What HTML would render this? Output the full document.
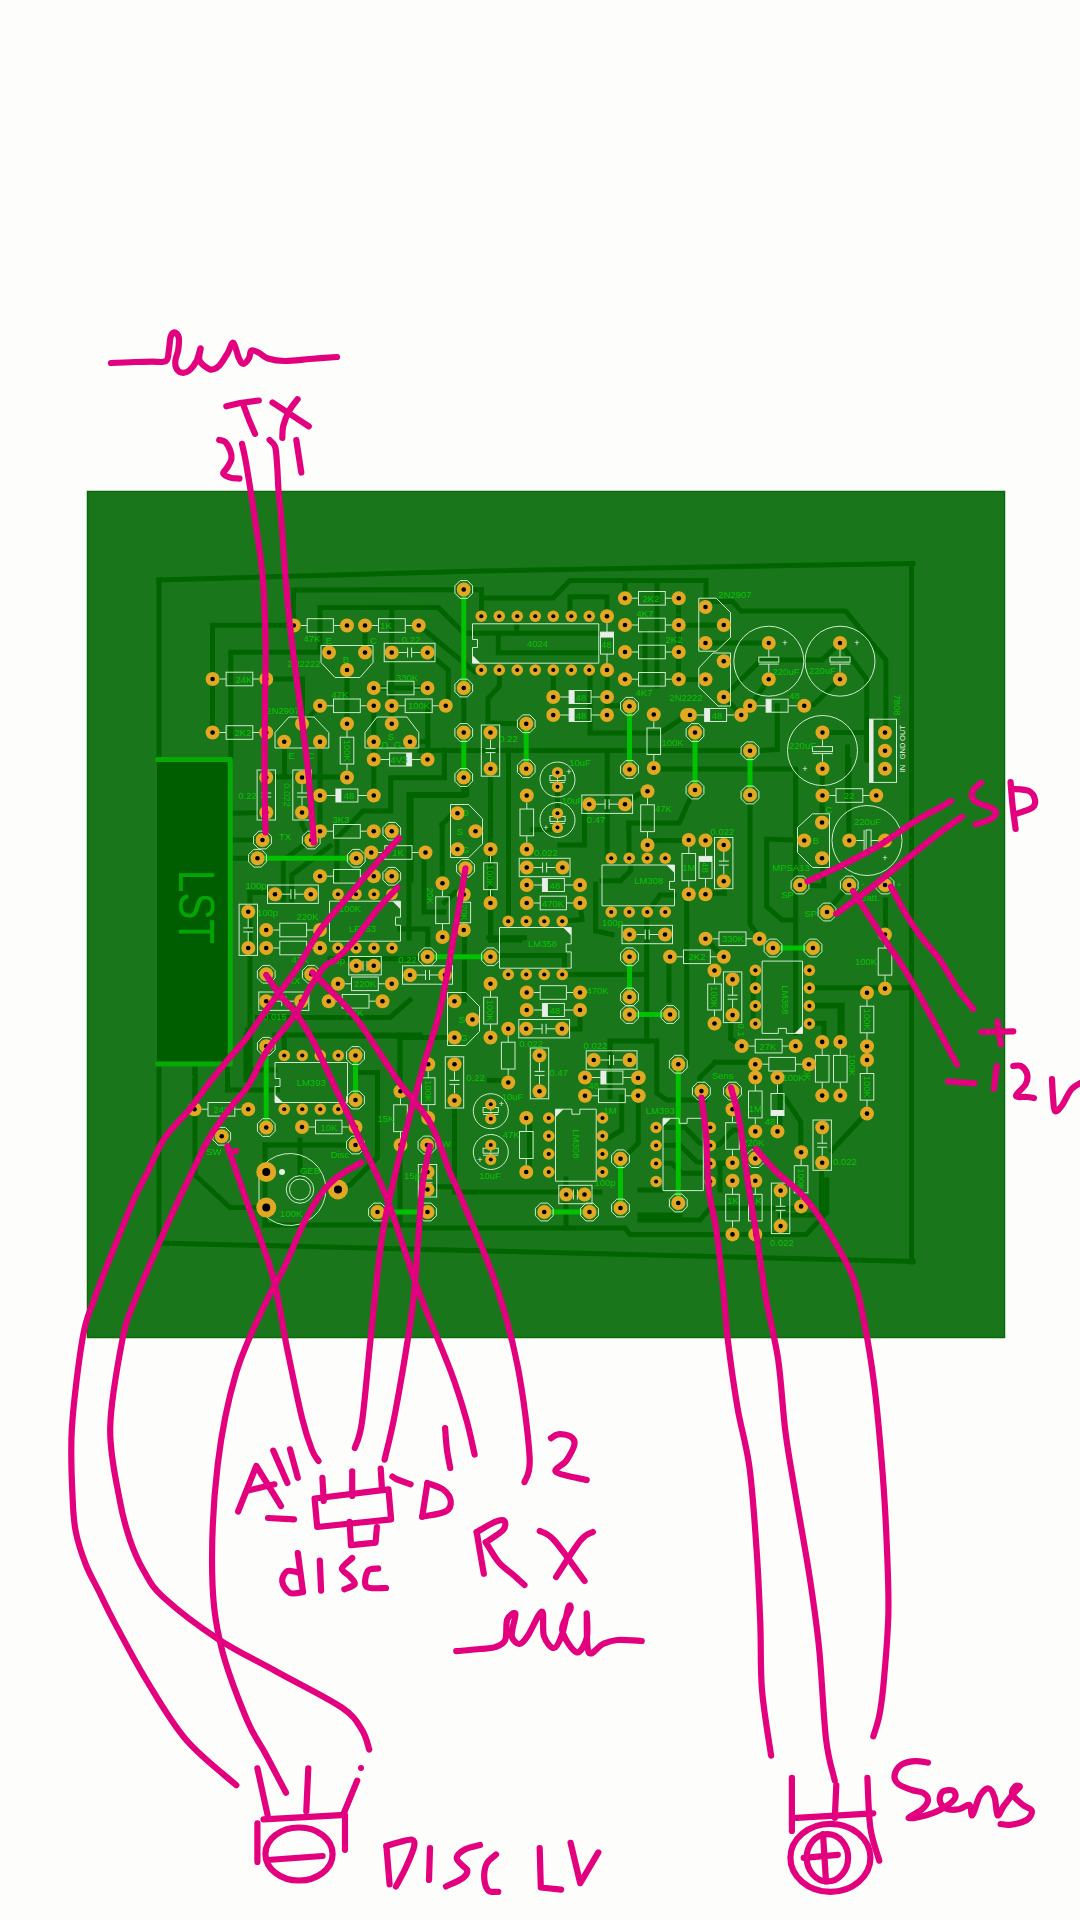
<!DOCTYPE html>
<html><head><meta charset="utf-8"><style>
html,body{margin:0;padding:0;background:#fdfdfb;width:1080px;height:1920px;overflow:hidden}
svg{display:block}
.m{fill:none;stroke:#e3007f;stroke-width:6.2;stroke-linecap:round;stroke-linejoin:round}
.t{fill:none;stroke:#006400;stroke-width:5;stroke-linecap:square;stroke-linejoin:miter}
.g{fill:none;stroke:#00c200;stroke-width:5;stroke-linecap:butt}
.w{fill:none;stroke:#cdeccd;stroke-width:1}
.lb{font-family:"Liberation Sans",sans-serif;font-size:9.5px;fill:#06c206}
</style></head><body>
<svg width="1080" height="1920" viewBox="0 0 1080 1920">
<rect x="0" y="0" width="1080" height="1920" fill="#fdfdfb"/>
<rect x="87.5" y="491.5" width="917" height="846" fill="#1a761a" stroke="#0a6a0a" stroke-width="1.5"/>
<path d="M159.0 580.0 L480.0 571.0 L913.0 563.5" class="t"/>
<path d="M159.0 580.0 L159.0 760.0" class="t"/>
<path d="M159.0 1063.0 L159.0 1243.0 L913.0 1261.5" class="t"/>
<path d="M911.5 563.5 L911.5 1262.0" class="t"/>
<path d="M293.5 625.5 L293.5 590.0 L463.8 589.7 L481.5 589.7 L481.5 616.2" class="t"/>
<path d="M481.5 598.0 L553.0 598.0 L570.0 580.5 L706.0 580.5 L706.0 607.0" class="t"/>
<path d="M570.0 616.0 L570.0 596.7 L607.0 596.7 L607.0 616.0" class="t"/>
<path d="M625.0 598.0 L625.0 580.5" class="t"/>
<path d="M657.0 580.5 L657.0 686.0" class="t"/>
<path d="M320.0 652.5 L320.0 607.5 L438.3 607.5 L464.0 633.3 L598.0 633.3" class="t"/>
<path d="M516.7 623.7 L516.7 633.3" class="t"/>
<path d="M598.0 652.7 L498.3 652.7 L498.3 633.3" class="t"/>
<path d="M499.4 670.0 L499.4 686.0 L488.0 698.5 L488.0 732.5" class="t"/>
<path d="M488.0 723.0 L526.2 723.8" class="t"/>
<path d="M553.3 670.0 L553.3 697.0" class="t"/>
<path d="M590.0 670.0 L590.0 733.0 L660.0 733.0 L687.0 715.0" class="t"/>
<path d="M607.3 670.0 L607.3 715.0" class="t"/>
<path d="M607.3 705.6 L629.5 706.2" class="t"/>
<path d="M678.6 598.0 L678.6 679.0" class="t"/>
<path d="M678.6 625.2 L723.8 625.0" class="t"/>
<path d="M706.0 607.0 L706.0 601.5 L732.6 601.5 L741.1 611.1 L845.5 611.1 L885.9 660.1 L885.9 732.5" class="t"/>
<path d="M705.5 643.0 L768.8 643.0" class="t"/>
<path d="M760.0 660.0 L822.0 660.0 L840.0 643.0" class="t"/>
<path d="M768.8 679.2 L750.7 705.9" class="t"/>
<path d="M760.0 661.0 L730.5 690.0 L723.8 697.0" class="t"/>
<path d="M840.0 643.0 L866.7 679.2 L866.7 760.0" class="t"/>
<path d="M840.0 679.2 L813.5 704.8 L804.2 705.8" class="t"/>
<path d="M777.3 705.8 L777.3 749.5 L750.0 750.8" class="t"/>
<path d="M723.8 697.0 L741.1 715.0 L750.7 705.9" class="t"/>
<path d="M822.0 732.5 L866.7 732.5" class="t"/>
<path d="M847.6 747.0 L847.6 800.0" class="t"/>
<path d="M695.0 750.6 L750.0 750.6" class="t"/>
<path d="M678.6 680.0 L705.5 679.2" class="t"/>
<path d="M645.0 633.0 L645.0 682.0" class="t"/>
<path d="M420.0 750.5 L700.0 750.5" class="t"/>
<path d="M212.5 733.0 L212.5 625.3 L293.8 625.3" class="t"/>
<path d="M230.8 759.0 L230.8 652.2 L329.0 652.2" class="t"/>
<path d="M266.2 679.0 L302.5 679.0 L302.5 723.8 L320.0 705.8" class="t"/>
<path d="M365.0 625.5 L365.0 652.5" class="t"/>
<path d="M347.0 670.0 L347.0 723.8" class="t"/>
<path d="M391.8 607.5 L391.8 723.8" class="t"/>
<path d="M418.8 625.5 L475.0 672.0 L481.2 670.0" class="t"/>
<path d="M427.5 652.5 L448.3 670.0 L448.3 706.0" class="t"/>
<path d="M463.8 688.0 L463.8 732.5" class="t"/>
<path d="M373.8 705.8 L373.8 795.5" class="t"/>
<path d="M410.0 741.8 L427.8 741.8 L427.8 759.5" class="t"/>
<path d="M427.8 706.0 L427.8 741.8" class="t"/>
<path d="M373.8 688.0 L427.5 688.0" class="t"/>
<path d="M284.5 741.8 L284.5 776.7" class="t"/>
<path d="M266.2 776.7 L347.0 776.9" class="t"/>
<path d="M320.0 741.7 L320.0 831.0" class="t"/>
<path d="M233.0 813.3 L266.2 812.5" class="t"/>
<path d="M233.0 840.0 L262.5 840.0" class="t"/>
<path d="M233.0 858.3 L257.5 858.2" class="t"/>
<path d="M444.4 750.0 L444.4 777.8 L390.7 777.8 L390.7 811.0 L363.0 811.0 L337.0 838.0 L337.0 880.0" class="t"/>
<path d="M463.9 777.8 L463.9 795.4 L411.0 795.4 L411.0 880.0" class="t"/>
<path d="M490.6 768.0 L490.6 940.0" class="t"/>
<path d="M302.0 812.5 L302.0 825.0 L311.0 840.0" class="t"/>
<path d="M311.0 840.0 L283.3 860.0 L283.3 900.0" class="t"/>
<path d="M330.0 846.0 L291.7 875.0 L291.7 900.0" class="t"/>
<path d="M250.0 892.5 L250.0 1080.0" class="t"/>
<path d="M250.0 892.5 L268.0 892.5" class="t"/>
<path d="M257.5 1017.5 L390.0 1017.5 L410.0 1000.0" class="t"/>
<path d="M275.0 1035.0 L420.0 1035.0" class="t"/>
<path d="M246.0 1035.0 L246.0 1080.0" class="t"/>
<path d="M195.0 1064.0 L195.0 1108.0" class="t"/>
<path d="M400.0 1035.0 L400.0 1091.0" class="t"/>
<path d="M330.0 958.8 L420.0 958.8" class="t"/>
<path d="M409.0 938.0 L409.0 794.4 L466.7 794.4 L466.7 777.8" class="t"/>
<path d="M424.0 852.5 L424.0 912.0 L444.0 912.0" class="t"/>
<path d="M455.6 892.2 L444.4 902.2" class="t"/>
<path d="M400.0 928.9 L427.8 928.9 L427.8 960.0" class="t"/>
<path d="M442.2 824.4 L442.2 884.4" class="t"/>
<path d="M442.2 824.4 L453.0 813.0" class="t"/>
<path d="M464.4 937.8 L464.4 1000.0" class="t"/>
<path d="M490.6 903.0 L490.6 940.0 L520.0 940.0" class="t"/>
<path d="M508.5 750.0 L508.5 920.0" class="t"/>
<path d="M488.9 937.8 L524.4 937.8" class="t"/>
<path d="M497.8 955.6 L564.4 955.6 L564.4 974.5" class="t"/>
<path d="M595.6 884.0 L595.6 931.0 L612.0 934.5" class="t"/>
<path d="M653.3 768.9 L795.6 768.9 L795.6 1033.0" class="t"/>
<path d="M822.2 768.8 L822.2 822.5" class="t"/>
<path d="M647.1 840.4 L687.8 840.4" class="t"/>
<path d="M750.0 795.0 L750.0 924.4 L760.0 937.8" class="t"/>
<path d="M804.0 840.5 L766.7 839.0 L766.7 906.7 L782.0 920.0 L795.6 920.0" class="t"/>
<path d="M822.0 858.0 L824.0 886.0 L800.0 885.0" class="t"/>
<path d="M849.0 885.0 L827.0 912.0" class="t"/>
<path d="M848.9 760.0 L848.9 838.0" class="t"/>
<path d="M705.6 893.3 L724.4 893.3 L724.4 881.0" class="t"/>
<path d="M686.7 894.0 L686.7 1000.0" class="t"/>
<path d="M705.6 938.9 L723.3 957.1" class="t"/>
<path d="M646.7 913.0 L646.7 1000.0" class="t"/>
<path d="M668.9 957.0 L668.9 1000.0" class="t"/>
<path d="M813.3 987.8 L911.0 987.8" class="t"/>
<path d="M753.3 969.0 L753.3 1024.0" class="t"/>
<path d="M885.4 900.0 L885.4 934.6" class="t"/>
<path d="M809.4 1005.9 L840.0 1005.9 L840.0 1042.0" class="t"/>
<path d="M195.0 1065.0 L195.0 1175.0 L230.0 1207.5 L266.0 1207.5" class="t"/>
<path d="M227.5 1030.0 L227.5 1090.0 L277.5 1090.0" class="t"/>
<path d="M247.5 1030.0 L247.5 1070.0 L275.0 1070.0" class="t"/>
<path d="M315.0 1036.0 L420.0 1036.0" class="t"/>
<path d="M355.5 1072.5 L377.5 1072.5 L377.5 1157.5 L350.0 1185.0 L338.0 1189.5" class="t"/>
<path d="M300.0 1140.0 L300.0 1177.0" class="t"/>
<path d="M265.0 1145.0 L350.0 1145.0" class="t"/>
<path d="M265.0 1145.0 L265.0 1225.0 L420.0 1225.0" class="t"/>
<path d="M400.0 1042.0 L400.0 1091.0" class="t"/>
<path d="M400.0 1150.0 L400.0 1220.0" class="t"/>
<path d="M284.2 1055.5 L284.2 1036.0" class="t"/>
<path d="M400.0 1037.6 L454.5 1037.6" class="t"/>
<path d="M454.5 1106.0 L454.5 1186.7 L436.0 1186.7" class="t"/>
<path d="M489.4 1080.4 L508.2 1080.4" class="t"/>
<path d="M529.6 1122.0 L529.6 1171.0" class="t"/>
<path d="M566.0 1179.0 L566.0 1228.0" class="t"/>
<path d="M420.0 1228.0 L625.0 1228.0 L630.0 1234.6 L806.0 1234.6 L826.7 1212.6 L826.7 1180.0" class="t"/>
<path d="M454.5 1192.0 L600.0 1192.0" class="t"/>
<path d="M640.0 1215.0 L680.0 1215.0" class="t"/>
<path d="M715.2 1062.2 L754.0 1062.2" class="t"/>
<path d="M715.2 1062.2 L699.6 1077.8 L699.6 1091.0" class="t"/>
<path d="M656.1 1127.5 L685.0 1127.5 L700.0 1143.3 L710.3 1145.3" class="t"/>
<path d="M656.1 1145.3 L680.0 1145.3 L696.7 1161.7 L710.3 1163.3" class="t"/>
<path d="M656.1 1163.3 L671.7 1163.3 L681.7 1173.3 L700.0 1173.3" class="t"/>
<path d="M710.3 1145.3 L718.3 1145.3 L733.3 1130.0 L740.0 1130.0" class="t"/>
<path d="M710.3 1163.3 L732.5 1162.8" class="t"/>
<path d="M640.0 1190.0 L662.0 1190.0" class="t"/>
<path d="M780.0 1077.8 L780.0 1132.0" class="t"/>
<path d="M785.2 1098.5 L800.7 1121.9 L800.7 1153.0" class="t"/>
<path d="M821.5 1171.0 L821.5 1215.0 L780.0 1215.0" class="t"/>
<path d="M865.6 1114.0 L831.9 1150.4" class="t"/>
<path d="M808.5 1005.2 L842.2 1005.2 L842.2 1042.0" class="t"/>
<path d="M809.0 1023.3 L824.0 1023.3 L824.0 1042.0" class="t"/>
<path d="M730.7 1010.0 L730.7 1038.9 L741.7 1046.0" class="t"/>
<path d="M640.0 1220.0 L700.0 1220.0 L710.0 1208.3 L800.0 1208.3" class="t"/>
<path d="M720.0 1165.0 L720.0 1190.0" class="t"/>
<path d="M646.7 1000.0 L646.7 1041.0" class="t"/>
<path d="M610.0 1097.0 L610.0 1041.0 L656.7 1041.0 L656.7 1093.0 L666.7 1100.0 L704.8 1100.0" class="t"/>
<path d="M621.7 1097.0 L621.7 1130.0 L610.0 1137.0" class="t"/>
<path d="M638.3 1078.0 L638.3 1143.0 L626.7 1155.0" class="t"/>
<path d="M580.0 1012.5 L580.0 1029.0 L570.0 1029.0" class="t"/>
<path d="M686.7 1000.0 L686.7 1063.0" class="t"/>
<path d="M607.3 750.4 L607.3 858.0" class="t"/>
<path d="M584.6 813.0 L584.6 845.0 L560.0 845.0" class="t"/>
<path d="M625.0 804.3 L637.8 794.4 L647.5 791.2" class="t"/>
<path d="M629.2 858.2 L628.7 823.0 L679.3 823.0 L689.6 799.6 L695.0 790.0" class="t"/>
<path d="M580.0 903.0 L582.0 919.5 L562.5 921.2" class="t"/>
<path d="M571.0 974.5 L645.0 974.5" class="t"/>
<path d="M602.0 880.7 L620.5 880.7 L630.7 870.5 L630.7 858.0" class="t"/>
<path d="M648.0 912.0 L660.0 895.0 L674.0 895.0" class="t"/>
<path d="M557.5 786.8 L557.5 813.2" class="t"/>
<path d="M533.0 829.6 L550.0 829.6" class="t"/>
<rect x="157" y="761" width="72" height="302" fill="#005e00"/>
<path d="M157.5 759.5H230.3V1063.9H157.5" fill="none" stroke="#06aa06" stroke-width="5" stroke-linecap="round" stroke-linejoin="round"/>
<text x="196.2" y="907" transform="rotate(90 196.2 907)" text-anchor="middle" dominant-baseline="central" font-family="Liberation Sans,sans-serif" font-size="50" textLength="74" lengthAdjust="spacingAndGlyphs" fill="#04a404">LST</text>
<path d="M463.8 589.5 L463.8 688.0" class="g"/>
<path d="M463.8 732.5 L463.8 777.5" class="g"/>
<path d="M629.5 706.2 L629.5 769.5" class="g"/>
<path d="M526.2 723.8 L526.2 768.8" class="g"/>
<path d="M695.0 732.5 L695.0 790.0" class="g"/>
<path d="M750.0 750.8 L750.0 795.0" class="g"/>
<path d="M257.5 858.2 L356.2 858.2" class="g"/>
<path d="M427.5 956.8 L490.5 956.8" class="g"/>
<path d="M629.5 956.8 L629.5 997.0" class="g"/>
<path d="M629.5 1014.5 L670.0 1014.5" class="g"/>
<path d="M773.0 948.0 L813.0 948.0" class="g"/>
<path d="M355.5 1055.5 L355.5 1100.0" class="g"/>
<path d="M266.2 1046.2 L266.2 1127.5" class="g"/>
<path d="M377.5 1212.0 L427.5 1212.0" class="g"/>
<path d="M544.2 1212.0 L589.5 1212.0" class="g"/>
<path d="M620.5 1158.8 L620.5 1208.0" class="g"/>
<path d="M678.3 1064.2 L678.3 1203.0" class="g"/>
<path d="M219.6 679.0L226.1 679.0" class="w"/>
<path d="M252.8 679.0L259.2 679.0" class="w"/>
<rect x="226.1" y="672.2" width="26.7" height="13.6" class="w"/>
<path d="M219.6 732.5L226.1 732.5" class="w"/>
<path d="M252.8 732.5L259.2 732.5" class="w"/>
<rect x="226.1" y="725.7" width="26.7" height="13.6" class="w"/>
<path d="M300.8 625.5L307.2 625.5" class="w"/>
<path d="M333.5 625.5L340.0 625.5" class="w"/>
<rect x="307.2" y="618.7" width="26.2" height="13.6" class="w"/>
<path d="M372.0 625.5L378.5 625.5" class="w"/>
<path d="M405.2 625.5L411.8 625.5" class="w"/>
<rect x="378.5" y="618.7" width="26.8" height="13.6" class="w"/>
<polygon points="321.0,645.5 373.0,645.5 373.0,662.5 360.0,677.5 335.0,677.5 321.0,662.5" class="w"/>
<rect x="384.2" y="643.3" width="50.8" height="18.4" class="w"/>
<path d="M398.8 652.5L407.6 652.5" class="w"/>
<path d="M411.6 652.5L420.5 652.5" class="w"/>
<path d="M407.6 647.5L407.6 657.5" class="w"/>
<path d="M411.6 647.5L411.6 657.5" class="w"/>
<path d="M380.8 688.0L387.2 688.0" class="w"/>
<path d="M414.0 688.0L420.5 688.0" class="w"/>
<rect x="387.2" y="681.2" width="26.8" height="13.6" class="w"/>
<path d="M327.0 705.8L333.5 705.8" class="w"/>
<path d="M360.2 705.8L366.8 705.8" class="w"/>
<rect x="333.5" y="699.0" width="26.8" height="13.6" class="w"/>
<path d="M398.8 705.8L405.2 705.8" class="w"/>
<path d="M432.2 705.8L438.8 705.8" class="w"/>
<rect x="405.2" y="699.0" width="27.0" height="13.6" class="w"/>
<polygon points="289.0,717.0 314.0,717.0 328.8,732.5 328.8,748.0 275.0,748.0 275.0,732.5" class="w"/>
<path d="M347.0 730.8L347.0 737.2" class="w"/>
<path d="M347.0 764.0L347.0 770.5" class="w"/>
<rect x="340.2" y="737.2" width="13.6" height="26.8" class="w"/>
<polygon points="377.0,717.0 407.0,717.0 418.8,732.5 418.8,748.0 365.0,748.0 365.0,732.5" class="w"/>
<path d="M380.8 759.5L389.6 759.5" class="w"/>
<path d="M411.6 759.5L420.5 759.5" class="w"/>
<rect x="389.6" y="753.0" width="22.0" height="13.0" class="w"/>
<rect x="406.1" y="753.0" width="5.5" height="13" fill="#e8eee8"/>
<rect x="257.1" y="770.0" width="18.4" height="50.0" class="w"/>
<path d="M266.2 784.5L266.2 793.0" class="w"/>
<path d="M266.2 797.0L266.2 805.5" class="w"/>
<path d="M261.2 793.0L271.2 793.0" class="w"/>
<path d="M261.2 797.0L271.2 797.0" class="w"/>
<rect x="292.8" y="770.0" width="18.4" height="50.0" class="w"/>
<path d="M302.0 784.5L302.0 793.0" class="w"/>
<path d="M302.0 797.0L302.0 805.5" class="w"/>
<path d="M297.0 793.0L307.0 793.0" class="w"/>
<path d="M297.0 797.0L307.0 797.0" class="w"/>
<path d="M327.0 795.5L335.9 795.5" class="w"/>
<path d="M357.9 795.5L366.8 795.5" class="w"/>
<rect x="335.9" y="789.0" width="22.0" height="13.0" class="w"/>
<rect x="335.9" y="789.0" width="5.5" height="13" fill="#e8eee8"/>
<polygon points="472.6,593.2 467.4,598.4 460.1,598.4 454.9,593.2 454.9,585.8 460.1,580.6 467.4,580.6 472.6,585.8" class="w"/>
<polygon points="472.6,691.7 467.4,696.9 460.1,696.9 454.9,691.7 454.9,684.3 460.1,679.1 467.4,679.1 472.6,684.3" class="w"/>
<polygon points="472.6,736.2 467.4,741.4 460.1,741.4 454.9,736.2 454.9,728.8 460.1,723.6 467.4,723.6 472.6,728.8" class="w"/>
<polygon points="472.6,781.2 467.4,786.4 460.1,786.4 454.9,781.2 454.9,773.8 460.1,768.6 467.4,768.6 472.6,773.8" class="w"/>
<path d="M472.5 623.8H598.8V663.2H472.5V647.5h5v-8h-5Z" class="w"/>
<path d="M472.5 663.2v-8l8 8z" fill="#e8eee8"/>
<path d="M607.0 623.2L607.0 632.1" class="w"/>
<path d="M607.0 654.1L607.0 663.0" class="w"/>
<rect x="600.5" y="632.1" width="13.0" height="22.0" class="w"/>
<rect x="600.5" y="632.1" width="13" height="5.5" fill="#e8eee8"/>
<path d="M632.0 598.2L638.5 598.2" class="w"/>
<path d="M665.2 598.2L671.8 598.2" class="w"/>
<rect x="638.5" y="591.5" width="26.8" height="13.6" class="w"/>
<path d="M632.0 625.0L638.5 625.0" class="w"/>
<path d="M665.2 625.0L671.8 625.0" class="w"/>
<rect x="638.5" y="618.2" width="26.8" height="13.6" class="w"/>
<path d="M632.0 652.0L638.5 652.0" class="w"/>
<path d="M665.2 652.0L671.8 652.0" class="w"/>
<rect x="638.5" y="645.2" width="26.8" height="13.6" class="w"/>
<path d="M632.0 679.2L638.5 679.2" class="w"/>
<path d="M665.2 679.2L671.8 679.2" class="w"/>
<rect x="638.5" y="672.5" width="26.8" height="13.6" class="w"/>
<path d="M560.2 697.0L569.1 697.0" class="w"/>
<path d="M591.1 697.0L600.0 697.0" class="w"/>
<rect x="569.1" y="690.5" width="22.0" height="13.0" class="w"/>
<rect x="569.1" y="690.5" width="5.5" height="13" fill="#e8eee8"/>
<path d="M560.2 715.0L569.1 715.0" class="w"/>
<path d="M591.1 715.0L600.0 715.0" class="w"/>
<rect x="569.1" y="708.5" width="22.0" height="13.0" class="w"/>
<rect x="569.1" y="708.5" width="5.5" height="13" fill="#e8eee8"/>
<polygon points="638.4,709.9 633.2,715.1 625.8,715.1 620.6,709.9 620.6,702.6 625.8,697.4 633.2,697.4 638.4,702.6" class="w"/>
<polygon points="638.4,773.2 633.2,778.4 625.8,778.4 620.6,773.2 620.6,765.8 625.8,760.6 633.2,760.6 638.4,765.8" class="w"/>
<path d="M653.8 721.5L653.8 728.0" class="w"/>
<path d="M653.8 754.5L653.8 761.0" class="w"/>
<rect x="647.0" y="728.0" width="13.6" height="26.5" class="w"/>
<rect x="481.3" y="725.0" width="18.4" height="51.2" class="w"/>
<path d="M490.5 739.5L490.5 748.6" class="w"/>
<path d="M490.5 752.6L490.5 761.8" class="w"/>
<path d="M485.5 748.6L495.5 748.6" class="w"/>
<path d="M485.5 752.6L495.5 752.6" class="w"/>
<polygon points="535.1,727.4 529.9,732.6 522.6,732.6 517.4,727.4 517.4,720.1 522.6,714.9 529.9,714.9 535.1,720.1" class="w"/>
<polygon points="535.1,772.4 529.9,777.6 522.6,777.6 517.4,772.4 517.4,765.1 522.6,759.9 529.9,759.9 535.1,765.1" class="w"/>
<circle cx="557.5" cy="779.5" r="17.5" class="w"/>
<path d="M557.5 779.5L557.5 775.6" class="w"/>
<path d="M557.5 782.6L557.5 779.8" class="w"/>
<rect x="549.9" y="775.6" width="15.2" height="5.0" class="w"/>
<path d="M549.9 782.6L565.1 782.6" class="w"/>
<polygon points="698.8,598.2 716.2,598.2 730.5,612.5 730.5,637.5 716.2,651.2 698.8,651.2" class="w"/>
<polygon points="730.5,653.0 730.5,706.0 718.0,706.0 698.8,687.0 698.8,668.0 713.0,653.0" class="w"/>
<circle cx="768.8" cy="661.2" r="35.0" class="w"/>
<path d="M768.8 650.0L768.8 657.1" class="w"/>
<path d="M768.8 664.1L768.8 672.2" class="w"/>
<rect x="758.8" y="657.1" width="20.0" height="5.0" class="w"/>
<path d="M758.8 664.1L778.7 664.1" class="w"/>
<circle cx="840.0" cy="661.2" r="35.0" class="w"/>
<path d="M840.0 650.0L840.0 657.1" class="w"/>
<path d="M840.0 664.1L840.0 672.2" class="w"/>
<rect x="830.0" y="657.1" width="20.0" height="5.0" class="w"/>
<path d="M830.0 664.1L850.0 664.1" class="w"/>
<path d="M757.0 705.8L766.1 705.8" class="w"/>
<path d="M788.1 705.8L797.2 705.8" class="w"/>
<rect x="766.1" y="699.2" width="22.0" height="13.0" class="w"/>
<rect x="766.1" y="699.2" width="5.5" height="13" fill="#e8eee8"/>
<path d="M697.0 715.0L704.6 715.0" class="w"/>
<path d="M726.6 715.0L734.2 715.0" class="w"/>
<rect x="704.6" y="708.5" width="22.0" height="13.0" class="w"/>
<rect x="704.6" y="708.5" width="5.5" height="13" fill="#e8eee8"/>
<polygon points="703.9,736.2 698.7,741.4 691.3,741.4 686.1,736.2 686.1,728.8 691.3,723.6 698.7,723.6 703.9,728.8" class="w"/>
<polygon points="703.9,793.7 698.7,798.9 691.3,798.9 686.1,793.7 686.1,786.3 691.3,781.1 698.7,781.1 703.9,786.3" class="w"/>
<polygon points="758.9,754.4 753.7,759.6 746.3,759.6 741.1,754.4 741.1,747.1 746.3,741.9 753.7,741.9 758.9,747.1" class="w"/>
<polygon points="758.9,798.7 753.7,803.9 746.3,803.9 741.1,798.7 741.1,791.3 746.3,786.1 753.7,786.1 758.9,791.3" class="w"/>
<circle cx="822.5" cy="750.5" r="35.0" class="w"/>
<path d="M822.5 739.5L822.5 746.6" class="w"/>
<path d="M822.5 753.6L822.5 761.8" class="w"/>
<rect x="812.5" y="746.6" width="20.0" height="5.0" class="w"/>
<path d="M812.5 753.6L832.5 753.6" class="w"/>
<rect x="869.5" y="719.2" width="27.0" height="63.2" class="w"/>
<rect x="869.5" y="719.25" width="4" height="63.25" fill="#e8eee8"/>
<path d="M829.5 795.5L836.0 795.5" class="w"/>
<path d="M862.8 795.5L869.2 795.5" class="w"/>
<rect x="836.0" y="788.7" width="26.8" height="13.6" class="w"/>
<path d="M327.0 831.2L333.5 831.2" class="w"/>
<path d="M360.2 831.2L366.8 831.2" class="w"/>
<rect x="333.5" y="824.5" width="26.8" height="13.6" class="w"/>
<polygon points="400.6,834.9 395.4,840.1 388.1,840.1 382.9,834.9 382.9,827.6 388.1,822.4 395.4,822.4 400.6,827.6" class="w"/>
<polygon points="271.4,843.7 266.2,848.9 258.8,848.9 253.6,843.7 253.6,836.3 258.8,831.1 266.2,831.1 271.4,836.3" class="w"/>
<polygon points="320.1,843.7 314.9,848.9 307.6,848.9 302.4,843.7 302.4,836.3 307.6,831.1 314.9,831.1 320.1,836.3" class="w"/>
<polygon points="266.4,861.9 261.2,867.1 253.8,867.1 248.6,861.9 248.6,854.6 253.8,849.4 261.2,849.4 266.4,854.6" class="w"/>
<polygon points="365.1,861.9 359.9,867.1 352.6,867.1 347.4,861.9 347.4,854.6 352.6,849.4 359.9,849.4 365.1,854.6" class="w"/>
<path d="M378.2 852.5L384.8 852.5" class="w"/>
<path d="M412.0 852.5L418.5 852.5" class="w"/>
<rect x="384.8" y="845.7" width="27.2" height="13.6" class="w"/>
<path d="M327.0 876.2L333.5 876.2" class="w"/>
<path d="M360.2 876.2L366.8 876.2" class="w"/>
<rect x="333.5" y="869.5" width="26.8" height="13.6" class="w"/>
<polygon points="400.6,879.9 395.4,885.1 388.1,885.1 382.9,879.9 382.9,872.6 388.1,867.4 395.4,867.4 400.6,872.6" class="w"/>
<rect x="267.5" y="885.0" width="50.8" height="18.4" class="w"/>
<path d="M282.0 894.2L290.9 894.2" class="w"/>
<path d="M294.9 894.2L303.8 894.2" class="w"/>
<path d="M290.9 889.2L290.9 899.2" class="w"/>
<path d="M294.9 889.2L294.9 899.2" class="w"/>
<path d="M329.5 901.2H400.5V917.2h-5v8h5V941.2H329.5Z" class="w"/>
<path d="M400.5 901.2h-8l8 8z" fill="#e8eee8"/>
<rect x="239.1" y="904.2" width="18.4" height="51.2" class="w"/>
<path d="M248.2 918.8L248.2 927.9" class="w"/>
<path d="M248.2 931.9L248.2 941.0" class="w"/>
<path d="M243.2 927.9L253.2 927.9" class="w"/>
<path d="M243.2 931.9L253.2 931.9" class="w"/>
<path d="M273.2 930.0L279.8 930.0" class="w"/>
<path d="M306.5 930.0L313.0 930.0" class="w"/>
<rect x="279.8" y="923.2" width="26.8" height="13.6" class="w"/>
<path d="M273.2 948.0L279.8 948.0" class="w"/>
<path d="M306.5 948.0L313.0 948.0" class="w"/>
<rect x="279.8" y="941.2" width="26.8" height="13.6" class="w"/>
<polygon points="275.1,977.9 269.9,983.1 262.6,983.1 257.4,977.9 257.4,970.6 262.6,965.4 269.9,965.4 275.1,970.6" class="w"/>
<polygon points="320.1,977.9 314.9,983.1 307.6,983.1 302.4,977.9 302.4,970.6 307.6,965.4 314.9,965.4 320.1,970.6" class="w"/>
<rect x="258.8" y="992.0" width="50.0" height="18.4" class="w"/>
<path d="M273.2 1001.2L281.8 1001.2" class="w"/>
<path d="M285.8 1001.2L294.2 1001.2" class="w"/>
<path d="M281.8 996.2L281.8 1006.2" class="w"/>
<path d="M285.8 996.2L285.8 1006.2" class="w"/>
<rect x="348.8" y="956.5" width="32.5" height="18.4" class="w"/>
<path d="M363.2 965.8L363.0 965.8" class="w"/>
<path d="M367.0 965.8L366.8 965.8" class="w"/>
<path d="M363.0 960.8L363.0 970.8" class="w"/>
<path d="M367.0 960.8L367.0 970.8" class="w"/>
<path d="M345.0 983.8L351.5 983.8" class="w"/>
<path d="M378.2 983.8L384.8 983.8" class="w"/>
<rect x="351.5" y="977.0" width="26.8" height="13.6" class="w"/>
<path d="M335.8 1001.2L342.2 1001.2" class="w"/>
<path d="M369.0 1001.2L375.5 1001.2" class="w"/>
<rect x="342.2" y="994.5" width="26.8" height="13.6" class="w"/>
<rect x="402.5" y="965.8" width="50.0" height="18.4" class="w"/>
<path d="M417.0 975.0L425.5 975.0" class="w"/>
<path d="M429.5 975.0L438.0 975.0" class="w"/>
<path d="M425.5 970.0L425.5 980.0" class="w"/>
<path d="M429.5 970.0L429.5 980.0" class="w"/>
<polygon points="450.5,804.5 468.8,804.5 482.5,818.8 482.5,843.8 468.8,857.5 450.5,857.5" class="w"/>
<polygon points="474.4,871.9 469.2,877.1 461.8,877.1 456.6,871.9 456.6,864.6 461.8,859.4 469.2,859.4 474.4,864.6" class="w"/>
<path d="M442.5 890.2L442.5 896.8" class="w"/>
<path d="M442.5 923.5L442.5 930.0" class="w"/>
<rect x="435.7" y="896.8" width="13.6" height="26.8" class="w"/>
<rect x="457.8" y="902.2" width="12.8" height="20.6" class="w"/>
<path d="M490.5 856.2L490.5 862.8" class="w"/>
<path d="M490.5 889.5L490.5 896.0" class="w"/>
<rect x="483.7" y="862.8" width="13.6" height="26.8" class="w"/>
<polygon points="436.4,960.4 431.2,965.6 423.8,965.6 418.6,960.4 418.6,953.1 423.8,947.9 431.2,947.9 436.4,953.1" class="w"/>
<polygon points="499.4,960.4 494.2,965.6 486.8,965.6 481.6,960.4 481.6,953.1 486.8,947.9 494.2,947.9 499.4,953.1" class="w"/>
<path d="M526.8 802.5L526.8 809.0" class="w"/>
<path d="M526.8 835.8L526.8 842.2" class="w"/>
<rect x="520.0" y="809.0" width="13.6" height="26.8" class="w"/>
<circle cx="557.5" cy="820.0" r="17.5" class="w"/>
<path d="M557.5 820.2L557.5 816.4" class="w"/>
<path d="M557.5 823.4L557.5 820.5" class="w"/>
<rect x="549.9" y="816.4" width="15.2" height="5.0" class="w"/>
<path d="M549.9 823.4L565.1 823.4" class="w"/>
<rect x="581.8" y="795.0" width="50.8" height="18.4" class="w"/>
<path d="M596.2 804.2L605.1 804.2" class="w"/>
<path d="M609.1 804.2L618.0 804.2" class="w"/>
<path d="M605.1 799.2L605.1 809.2" class="w"/>
<path d="M609.1 799.2L609.1 809.2" class="w"/>
<path d="M647.5 798.2L647.5 804.8" class="w"/>
<path d="M647.5 831.5L647.5 838.0" class="w"/>
<rect x="640.7" y="804.8" width="13.6" height="26.8" class="w"/>
<rect x="519.2" y="858.3" width="50.8" height="18.4" class="w"/>
<path d="M533.8 867.5L542.6 867.5" class="w"/>
<path d="M546.6 867.5L555.5 867.5" class="w"/>
<path d="M542.6 862.5L542.6 872.5" class="w"/>
<path d="M546.6 862.5L546.6 872.5" class="w"/>
<path d="M533.8 885.0L542.4 885.0" class="w"/>
<path d="M564.4 885.0L573.0 885.0" class="w"/>
<rect x="542.4" y="878.5" width="22.0" height="13.0" class="w"/>
<rect x="542.4" y="878.5" width="5.5" height="13" fill="#e8eee8"/>
<path d="M533.8 903.0L540.2 903.0" class="w"/>
<path d="M566.5 903.0L573.0 903.0" class="w"/>
<rect x="540.2" y="896.2" width="26.2" height="13.6" class="w"/>
<path d="M499.5 927.5H571.2V943.9h-5v8h5V968.2H499.5Z" class="w"/>
<path d="M571.2 927.5h-8l8 8z" fill="#e8eee8"/>
<path d="M602.0 865.0H674.5V881.4h-5v8h5V905.8H602.0Z" class="w"/>
<path d="M674.5 865.0h-8l8 8z" fill="#e8eee8"/>
<rect x="622.0" y="925.3" width="50.5" height="18.4" class="w"/>
<path d="M636.5 934.5L645.2 934.5" class="w"/>
<path d="M649.2 934.5L658.0 934.5" class="w"/>
<path d="M645.2 929.5L645.2 939.5" class="w"/>
<path d="M649.2 929.5L649.2 939.5" class="w"/>
<polygon points="638.4,960.4 633.2,965.6 625.8,965.6 620.6,960.4 620.6,953.1 625.8,947.9 633.2,947.9 638.4,953.1" class="w"/>
<polygon points="638.4,1000.7 633.2,1005.9 625.8,1005.9 620.6,1000.7 620.6,993.3 625.8,988.1 633.2,988.1 638.4,993.3" class="w"/>
<polygon points="638.4,1018.2 633.2,1023.4 625.8,1023.4 620.6,1018.2 620.6,1010.8 625.8,1005.6 633.2,1005.6 638.4,1010.8" class="w"/>
<polygon points="678.9,1018.2 673.7,1023.4 666.3,1023.4 661.1,1018.2 661.1,1010.8 666.3,1005.6 673.7,1005.6 678.9,1010.8" class="w"/>
<path d="M688.8 847.0L688.8 853.5" class="w"/>
<path d="M688.8 880.8L688.8 887.2" class="w"/>
<rect x="682.0" y="853.5" width="13.6" height="27.2" class="w"/>
<path d="M533.8 992.5L540.2 992.5" class="w"/>
<path d="M566.5 992.5L573.0 992.5" class="w"/>
<rect x="540.2" y="985.7" width="26.2" height="13.6" class="w"/>
<path d="M533.8 1010.0L542.4 1010.0" class="w"/>
<path d="M564.4 1010.0L573.0 1010.0" class="w"/>
<rect x="542.4" y="1003.5" width="22.0" height="13.0" class="w"/>
<rect x="542.4" y="1003.5" width="5.5" height="13" fill="#e8eee8"/>
<path d="M490.5 990.8L490.5 997.2" class="w"/>
<path d="M490.5 1024.0L490.5 1030.5" class="w"/>
<rect x="483.7" y="997.2" width="13.6" height="26.8" class="w"/>
<polygon points="447.5,992.5 465.8,992.5 479.5,1006.5 479.5,1031.5 465.8,1045.5 447.5,1045.5" class="w"/>
<polygon points="797.5,827.5 812.5,813.8 829.5,813.8 829.5,867.5 812.5,867.5 797.5,852.5" class="w"/>
<circle cx="867.0" cy="840.5" r="35.0" class="w"/>
<path d="M856.2 840.5L864.1 840.5" class="w"/>
<path d="M871.1 840.5L878.0 840.5" class="w"/>
<rect x="866.1" y="830.0" width="5.0" height="21.0" class="w"/>
<path d="M864.1 830.0L864.1 851.0" class="w"/>
<polygon points="808.9,888.7 803.7,893.9 796.3,893.9 791.1,888.7 791.1,881.3 796.3,876.1 803.7,876.1 808.9,881.3" class="w"/>
<polygon points="858.1,888.7 852.9,893.9 845.6,893.9 840.4,888.7 840.4,881.3 845.6,876.1 852.9,876.1 858.1,881.3" class="w"/>
<polygon points="893.9,888.7 888.7,893.9 881.3,893.9 876.1,888.7 876.1,881.3 881.3,876.1 888.7,876.1 893.9,881.3" class="w"/>
<polygon points="835.9,915.7 830.7,920.9 823.3,920.9 818.1,915.7 818.1,908.3 823.3,903.1 830.7,903.1 835.9,908.3" class="w"/>
<rect x="714.5" y="837.5" width="18.4" height="51.2" class="w"/>
<path d="M723.8 852.0L723.8 861.1" class="w"/>
<path d="M723.8 865.1L723.8 874.2" class="w"/>
<path d="M718.8 861.1L728.8 861.1" class="w"/>
<path d="M718.8 865.1L728.8 865.1" class="w"/>
<path d="M705.5 847.5L705.5 856.4" class="w"/>
<path d="M705.5 878.4L705.5 887.2" class="w"/>
<rect x="699.0" y="856.4" width="13.0" height="22.0" class="w"/>
<rect x="699.0" y="856.4" width="13" height="5.5" fill="#e8eee8"/>
<path d="M712.5 938.8L719.0 938.8" class="w"/>
<path d="M746.0 938.8L752.5 938.8" class="w"/>
<rect x="719.0" y="932.0" width="27.0" height="13.6" class="w"/>
<polygon points="781.9,951.7 776.7,956.9 769.3,956.9 764.1,951.7 764.1,944.3 769.3,939.1 776.7,939.1 781.9,944.3" class="w"/>
<polygon points="821.9,951.7 816.7,956.9 809.3,956.9 804.1,951.7 804.1,944.3 809.3,939.1 816.7,939.1 821.9,944.3" class="w"/>
<path d="M677.0 956.8L683.5 956.8" class="w"/>
<path d="M710.2 956.8L716.8 956.8" class="w"/>
<rect x="683.5" y="950.0" width="26.8" height="13.6" class="w"/>
<path d="M714.5 977.5L714.5 984.0" class="w"/>
<path d="M714.5 1010.0L714.5 1016.5" class="w"/>
<rect x="707.7" y="984.0" width="13.6" height="26.0" class="w"/>
<rect x="723.4" y="971.9" width="18.4" height="50.7" class="w"/>
<path d="M732.6 986.4L732.6 995.2" class="w"/>
<path d="M732.6 999.2L732.6 1008.1" class="w"/>
<path d="M727.6 995.2L737.6 995.2" class="w"/>
<path d="M727.6 999.2L737.6 999.2" class="w"/>
<path d="M762.1 961.1H802.5V1033.4H786.3v-5h-8v5H762.1Z" class="w"/>
<path d="M802.5 1033.4v-8l-8 8z" fill="#e8eee8"/>
<path d="M885.0 941.6L885.0 948.1" class="w"/>
<path d="M885.0 975.1L885.0 981.6" class="w"/>
<rect x="878.2" y="948.1" width="13.6" height="27.0" class="w"/>
<path d="M867.0 999.7L867.0 1006.2" class="w"/>
<path d="M867.0 1032.8L867.0 1039.3" class="w"/>
<rect x="860.2" y="1006.2" width="13.6" height="26.6" class="w"/>
<path d="M867.0 1067.0L867.0 1073.5" class="w"/>
<path d="M867.0 1100.1L867.0 1106.6" class="w"/>
<rect x="860.2" y="1073.5" width="13.6" height="26.6" class="w"/>
<polygon points="275.1,1049.9 269.9,1055.1 262.6,1055.1 257.4,1049.9 257.4,1042.6 262.6,1037.4 269.9,1037.4 275.1,1042.6" class="w"/>
<path d="M275.0 1062.5H347.5V1102.5H275.0V1086.5h5v-8h-5Z" class="w"/>
<path d="M275.0 1102.5v-8l8 8z" fill="#e8eee8"/>
<polygon points="364.4,1059.2 359.2,1064.4 351.8,1064.4 346.6,1059.2 346.6,1051.8 351.8,1046.6 359.2,1046.6 364.4,1051.8" class="w"/>
<polygon points="364.4,1103.7 359.2,1108.9 351.8,1108.9 346.6,1103.7 346.6,1096.3 351.8,1091.1 359.2,1091.1 364.4,1096.3" class="w"/>
<path d="M201.5 1109.2L208.0 1109.2" class="w"/>
<path d="M234.8 1109.2L241.2 1109.2" class="w"/>
<rect x="208.0" y="1102.5" width="26.8" height="13.6" class="w"/>
<polygon points="275.1,1131.2 269.9,1136.4 262.6,1136.4 257.4,1131.2 257.4,1123.8 262.6,1118.6 269.9,1118.6 275.1,1123.8" class="w"/>
<path d="M309.0 1127.0L315.5 1127.0" class="w"/>
<path d="M342.0 1127.0L348.5 1127.0" class="w"/>
<rect x="315.5" y="1120.2" width="26.5" height="13.6" class="w"/>
<polygon points="364.4,1148.7 359.2,1153.9 351.8,1153.9 346.6,1148.7 346.6,1141.3 351.8,1136.1 359.2,1136.1 364.4,1141.3" class="w"/>
<polygon points="230.6,1139.9 225.4,1145.1 218.1,1145.1 212.9,1139.9 212.9,1132.6 218.1,1127.4 225.4,1127.4 230.6,1132.6" class="w"/>
<path d="M259 1171A36 36 0 1 1 259 1208Z" class="w"/>
<circle cx="300" cy="1189.5" r="13.75" class="w"/><circle cx="300" cy="1189.5" r="10.5" class="w"/>
<circle cx="282" cy="1172" r="3" fill="#e8eee8"/>
<path d="M400.5 1098.2L400.5 1104.8" class="w"/>
<path d="M400.5 1131.5L400.5 1138.0" class="w"/>
<rect x="393.7" y="1104.8" width="13.6" height="26.8" class="w"/>
<polygon points="386.4,1215.7 381.2,1220.9 373.8,1220.9 368.6,1215.7 368.6,1208.3 373.8,1203.1 381.2,1203.1 386.4,1208.3" class="w"/>
<polygon points="436.4,1215.7 431.2,1220.9 423.8,1220.9 418.6,1215.7 418.6,1208.3 423.8,1203.1 431.2,1203.1 436.4,1208.3" class="w"/>
<rect x="445.3" y="1056.8" width="18.4" height="51.2" class="w"/>
<path d="M454.5 1071.2L454.5 1080.4" class="w"/>
<path d="M454.5 1084.4L454.5 1093.5" class="w"/>
<path d="M449.5 1080.4L459.5 1080.4" class="w"/>
<path d="M449.5 1084.4L459.5 1084.4" class="w"/>
<path d="M428.2 1071.2L428.2 1077.8" class="w"/>
<path d="M428.2 1104.5L428.2 1111.0" class="w"/>
<rect x="421.4" y="1077.8" width="13.6" height="26.8" class="w"/>
<polygon points="435.9,1148.7 430.7,1153.9 423.3,1153.9 418.1,1148.7 418.1,1141.3 423.3,1136.1 430.7,1136.1 435.9,1141.3" class="w"/>
<rect x="418.3" y="1164.5" width="18.4" height="32.5" class="w"/>
<path d="M427.5 1179.0L427.5 1178.8" class="w"/>
<path d="M427.5 1182.8L427.5 1182.5" class="w"/>
<path d="M422.5 1178.8L432.5 1178.8" class="w"/>
<path d="M422.5 1182.8L432.5 1182.8" class="w"/>
<path d="M508.2 1035.8L508.2 1042.2" class="w"/>
<path d="M508.2 1069.0L508.2 1075.5" class="w"/>
<rect x="501.4" y="1042.2" width="13.6" height="26.8" class="w"/>
<circle cx="490.8" cy="1111.2" r="17.5" class="w"/>
<path d="M490.8 1111.2L490.8 1107.5" class="w"/>
<path d="M490.8 1114.5L490.8 1111.8" class="w"/>
<rect x="483.1" y="1107.5" width="15.2" height="5.0" class="w"/>
<path d="M483.1 1114.5L498.4 1114.5" class="w"/>
<circle cx="490.8" cy="1152.0" r="17.5" class="w"/>
<path d="M490.8 1152.0L490.8 1148.2" class="w"/>
<path d="M490.8 1155.2L490.8 1152.5" class="w"/>
<rect x="483.1" y="1148.2" width="15.2" height="5.0" class="w"/>
<path d="M483.1 1155.2L498.4 1155.2" class="w"/>
<rect x="518.8" y="1019.5" width="50.8" height="18.4" class="w"/>
<path d="M533.2 1028.8L542.1 1028.8" class="w"/>
<path d="M546.1 1028.8L555.0 1028.8" class="w"/>
<path d="M542.1 1023.8L542.1 1033.8" class="w"/>
<path d="M546.1 1023.8L546.1 1033.8" class="w"/>
<rect x="530.3" y="1048.0" width="18.4" height="50.8" class="w"/>
<path d="M539.5 1062.5L539.5 1071.4" class="w"/>
<path d="M539.5 1075.4L539.5 1084.2" class="w"/>
<path d="M534.5 1071.4L544.5 1071.4" class="w"/>
<path d="M534.5 1075.4L544.5 1075.4" class="w"/>
<path d="M526.2 1125.0L526.2 1131.5" class="w"/>
<path d="M526.2 1158.5L526.2 1165.0" class="w"/>
<rect x="519.5" y="1131.5" width="13.6" height="27.0" class="w"/>
<path d="M555.5 1109.2H571.9v5h8v-5H596.2V1181.2H555.5Z" class="w"/>
<path d="M555.5 1109.2v8l8 -8z" fill="#e8eee8"/>
<rect x="558.8" y="1185.3" width="33.2" height="18.4" class="w"/>
<path d="M573.2 1194.5L573.4 1194.5" class="w"/>
<path d="M577.4 1194.5L577.5 1194.5" class="w"/>
<path d="M573.4 1189.5L573.4 1199.5" class="w"/>
<path d="M577.4 1189.5L577.4 1199.5" class="w"/>
<polygon points="553.1,1215.7 547.9,1220.9 540.6,1220.9 535.4,1215.7 535.4,1208.3 540.6,1203.1 547.9,1203.1 553.1,1208.3" class="w"/>
<polygon points="598.4,1215.7 593.2,1220.9 585.8,1220.9 580.6,1215.7 580.6,1208.3 585.8,1203.1 593.2,1203.1 598.4,1208.3" class="w"/>
<polygon points="629.4,1162.4 624.2,1167.6 616.8,1167.6 611.6,1162.4 611.6,1155.1 616.8,1149.9 624.2,1149.9 629.4,1155.1" class="w"/>
<polygon points="629.4,1211.7 624.2,1216.9 616.8,1216.9 611.6,1211.7 611.6,1204.3 616.8,1199.1 624.2,1199.1 629.4,1204.3" class="w"/>
<rect x="586.2" y="1050.8" width="50.8" height="18.4" class="w"/>
<path d="M600.8 1060.0L609.6 1060.0" class="w"/>
<path d="M613.6 1060.0L622.5 1060.0" class="w"/>
<path d="M609.6 1055.0L609.6 1065.0" class="w"/>
<path d="M613.6 1055.0L613.6 1065.0" class="w"/>
<path d="M592.0 1077.5L600.9 1077.5" class="w"/>
<path d="M622.9 1077.5L631.8 1077.5" class="w"/>
<rect x="600.9" y="1071.0" width="22.0" height="13.0" class="w"/>
<rect x="600.9" y="1071.0" width="5.5" height="13" fill="#e8eee8"/>
<path d="M592.0 1095.8L598.5 1095.8" class="w"/>
<path d="M625.2 1095.8L631.8 1095.8" class="w"/>
<rect x="598.5" y="1089.0" width="26.8" height="13.6" class="w"/>
<path d="M748.7 1046.1L755.2 1046.1" class="w"/>
<path d="M782.1 1046.1L788.6 1046.1" class="w"/>
<rect x="755.2" y="1039.3" width="26.9" height="13.6" class="w"/>
<path d="M762.3 1064.2L768.8 1064.2" class="w"/>
<path d="M795.4 1064.2L801.9 1064.2" class="w"/>
<rect x="768.8" y="1057.4" width="26.6" height="13.6" class="w"/>
<path d="M822.2 1048.9L822.2 1055.4" class="w"/>
<path d="M822.2 1082.1L822.2 1088.6" class="w"/>
<rect x="815.4" y="1055.4" width="13.6" height="26.7" class="w"/>
<path d="M840.3 1048.9L840.3 1055.4" class="w"/>
<path d="M840.3 1082.1L840.3 1088.6" class="w"/>
<rect x="833.5" y="1055.4" width="13.6" height="26.7" class="w"/>
<path d="M755.3 1084.5L755.3 1091.0" class="w"/>
<path d="M755.3 1117.9L755.3 1124.4" class="w"/>
<rect x="748.5" y="1091.0" width="13.6" height="26.9" class="w"/>
<path d="M777.5 1084.5L777.5 1093.5" class="w"/>
<path d="M777.5 1115.5L777.5 1124.4" class="w"/>
<rect x="771.0" y="1093.5" width="13.0" height="22.0" class="w"/>
<rect x="771.0" y="1110.0" width="13" height="5.5" fill="#e8eee8"/>
<polygon points="687.2,1067.9 682.0,1073.1 674.6,1073.1 669.4,1067.9 669.4,1060.5 674.6,1055.3 682.0,1055.3 687.2,1060.5" class="w"/>
<polygon points="687.2,1206.7 682.0,1211.9 674.6,1211.9 669.4,1206.7 669.4,1199.3 674.6,1194.1 682.0,1194.1 687.2,1199.3" class="w"/>
<polygon points="710.3,1094.8 705.1,1100.0 697.7,1100.0 692.5,1094.8 692.5,1087.4 697.7,1082.2 705.1,1082.2 710.3,1087.4" class="w"/>
<polygon points="741.4,1094.8 736.2,1100.0 728.8,1100.0 723.6,1094.8 723.6,1087.4 728.8,1082.2 736.2,1082.2 741.4,1087.4" class="w"/>
<path d="M663.0 1118.3H679.1v5h8v-5H703.3V1190.6H663.0Z" class="w"/>
<path d="M663.0 1118.3v8l8 -8z" fill="#e8eee8"/>
<path d="M732.5 1116.2L732.5 1122.7" class="w"/>
<path d="M732.5 1149.3L732.5 1155.8" class="w"/>
<rect x="725.7" y="1122.7" width="13.6" height="26.6" class="w"/>
<polygon points="764.2,1162.3 759.0,1167.5 751.6,1167.5 746.4,1162.3 746.4,1154.9 751.6,1149.7 759.0,1149.7 764.2,1154.9" class="w"/>
<path d="M732.5 1187.8L732.5 1194.3" class="w"/>
<path d="M732.5 1220.9L732.5 1227.4" class="w"/>
<rect x="725.7" y="1194.3" width="13.6" height="26.6" class="w"/>
<path d="M755.3 1187.8L755.3 1194.3" class="w"/>
<path d="M755.3 1220.9L755.3 1227.4" class="w"/>
<rect x="748.5" y="1194.3" width="13.6" height="26.6" class="w"/>
<rect x="771.4" y="1183.1" width="18.4" height="50.5" class="w"/>
<path d="M780.6 1197.6L780.6 1206.3" class="w"/>
<path d="M780.6 1210.3L780.6 1219.1" class="w"/>
<path d="M775.6 1206.3L785.6 1206.3" class="w"/>
<path d="M775.6 1210.3L785.6 1210.3" class="w"/>
<path d="M801.1 1159.2L801.1 1165.7" class="w"/>
<path d="M801.1 1192.9L801.1 1199.4" class="w"/>
<rect x="794.3" y="1165.7" width="13.6" height="27.2" class="w"/>
<rect x="813.0" y="1120.0" width="18.4" height="50.3" class="w"/>
<path d="M822.2 1134.5L822.2 1143.2" class="w"/>
<path d="M822.2 1147.2L822.2 1155.8" class="w"/>
<path d="M817.2 1143.2L827.2 1143.2" class="w"/>
<path d="M817.2 1147.2L827.2 1147.2" class="w"/>
<text x="244.0" y="679.0" class="lb" text-anchor="middle" dominant-baseline="central">24K</text>
<text x="243.0" y="732.5" class="lb" text-anchor="middle" dominant-baseline="central">2K2</text>
<text x="312.0" y="638.0" class="lb" text-anchor="middle" dominant-baseline="central">47K</text>
<text x="386.0" y="625.5" class="lb" text-anchor="middle" dominant-baseline="central">1K</text>
<text x="329.0" y="640.0" class="lb" text-anchor="middle" dominant-baseline="central">E</text>
<text x="373.5" y="640.0" class="lb" text-anchor="middle" dominant-baseline="central">C</text>
<text x="346.0" y="659.0" class="lb" text-anchor="middle" dominant-baseline="central">B</text>
<text x="304.0" y="663.0" class="lb" text-anchor="middle" dominant-baseline="central">2N2222</text>
<text x="411.0" y="639.0" class="lb" text-anchor="middle" dominant-baseline="central">0.22</text>
<text x="407.0" y="677.0" class="lb" text-anchor="middle" dominant-baseline="central">330K</text>
<text x="340.0" y="694.0" class="lb" text-anchor="middle" dominant-baseline="central">47K</text>
<text x="419.0" y="705.8" class="lb" text-anchor="middle" dominant-baseline="central">100K</text>
<text x="291.5" y="755.0" class="lb" text-anchor="middle" dominant-baseline="central">E</text>
<text x="311.0" y="755.0" class="lb" text-anchor="middle" dominant-baseline="central">C</text>
<text x="283.0" y="710.0" class="lb" text-anchor="middle" dominant-baseline="central">2N2907</text>
<text x="347.0" y="750.6" class="lb" text-anchor="middle" dominant-baseline="central" transform="rotate(90 347.0 750.6)">100K</text>
<text x="391.0" y="736.0" class="lb" text-anchor="middle" dominant-baseline="central">S</text>
<text x="385.0" y="744.0" class="lb" text-anchor="middle" dominant-baseline="central">D</text>
<text x="397.5" y="744.0" class="lb" text-anchor="middle" dominant-baseline="central">G</text>
<text x="399.0" y="759.5" class="lb" text-anchor="middle" dominant-baseline="central">4V3</text>
<text x="247.5" y="795.0" class="lb" text-anchor="middle" dominant-baseline="central">0.22</text>
<text x="287.5" y="795.0" class="lb" text-anchor="middle" dominant-baseline="central" transform="rotate(90 287.5 795.0)">0.022</text>
<text x="349.0" y="795.5" class="lb" text-anchor="middle" dominant-baseline="central">48</text>
<text x="537.5" y="643.0" class="lb" text-anchor="middle" dominant-baseline="central">4024</text>
<text x="606.5" y="644.0" class="lb" text-anchor="middle" dominant-baseline="central">48</text>
<text x="651.0" y="598.2" class="lb" text-anchor="middle" dominant-baseline="central">2K2</text>
<text x="645.0" y="613.0" class="lb" text-anchor="middle" dominant-baseline="central">4K7</text>
<text x="674.0" y="639.0" class="lb" text-anchor="middle" dominant-baseline="central">2K2</text>
<text x="644.0" y="692.5" class="lb" text-anchor="middle" dominant-baseline="central">4K7</text>
<text x="581.0" y="697.0" class="lb" text-anchor="middle" dominant-baseline="central">48</text>
<text x="581.0" y="715.0" class="lb" text-anchor="middle" dominant-baseline="central">48</text>
<text x="672.5" y="742.0" class="lb" text-anchor="middle" dominant-baseline="central">100K</text>
<text x="508.5" y="738.0" class="lb" text-anchor="middle" dominant-baseline="central">0.22</text>
<text x="569.0" y="772.0" class="lb" text-anchor="middle" dominant-baseline="central" style="font-size:9px;fill:#e8eee8;">+</text>
<text x="580.0" y="762.5" class="lb" text-anchor="middle" dominant-baseline="central">10uF</text>
<text x="735.0" y="594.0" class="lb" text-anchor="middle" dominant-baseline="central">2N2907</text>
<text x="686.0" y="697.5" class="lb" text-anchor="middle" dominant-baseline="central">2N2222</text>
<text x="785.0" y="643.0" class="lb" text-anchor="middle" dominant-baseline="central" style="font-size:9px;fill:#e8eee8;">+</text>
<text x="786.0" y="671.0" class="lb" text-anchor="middle" dominant-baseline="central">220uF</text>
<text x="857.0" y="643.0" class="lb" text-anchor="middle" dominant-baseline="central" style="font-size:9px;fill:#e8eee8;">+</text>
<text x="822.5" y="670.0" class="lb" text-anchor="middle" dominant-baseline="central">220uF</text>
<text x="794.5" y="695.0" class="lb" text-anchor="middle" dominant-baseline="central">48</text>
<text x="717.0" y="715.0" class="lb" text-anchor="middle" dominant-baseline="central">48</text>
<text x="805.0" y="768.8" class="lb" text-anchor="middle" dominant-baseline="central" style="font-size:9px;fill:#e8eee8;">+</text>
<text x="802.5" y="745.0" class="lb" text-anchor="middle" dominant-baseline="central">220uF</text>
<text x="902.5" y="733.0" class="lb" text-anchor="middle" dominant-baseline="central" transform="rotate(-90 902.5 733.0)" style="font-size:7.5px;fill:#e8eee8;">OUT</text>
<text x="902.5" y="751.0" class="lb" text-anchor="middle" dominant-baseline="central" transform="rotate(-90 902.5 751.0)" style="font-size:7.5px;fill:#e8eee8;">GND</text>
<text x="902.5" y="768.5" class="lb" text-anchor="middle" dominant-baseline="central" transform="rotate(-90 902.5 768.5)" style="font-size:7.5px;fill:#e8eee8;">IN</text>
<text x="897.5" y="705.0" class="lb" text-anchor="middle" dominant-baseline="central" transform="rotate(90 897.5 705.0)">7808</text>
<text x="849.0" y="795.5" class="lb" text-anchor="middle" dominant-baseline="central">22</text>
<text x="341.0" y="819.0" class="lb" text-anchor="middle" dominant-baseline="central">3K3</text>
<text x="285.0" y="836.0" class="lb" text-anchor="middle" dominant-baseline="central">TX</text>
<text x="398.0" y="852.5" class="lb" text-anchor="middle" dominant-baseline="central">1K</text>
<text x="256.0" y="885.0" class="lb" text-anchor="middle" dominant-baseline="central">100p</text>
<text x="362.5" y="928.8" class="lb" text-anchor="middle" dominant-baseline="central">LF353</text>
<text x="350.0" y="908.0" class="lb" text-anchor="middle" dominant-baseline="central">100K</text>
<text x="267.5" y="912.5" class="lb" text-anchor="middle" dominant-baseline="central">100p</text>
<text x="307.5" y="916.0" class="lb" text-anchor="middle" dominant-baseline="central">220K</text>
<text x="300.0" y="959.0" class="lb" text-anchor="middle" dominant-baseline="central">47K</text>
<text x="293.8" y="980.0" class="lb" text-anchor="middle" dominant-baseline="central">RX</text>
<text x="275.0" y="1016.0" class="lb" text-anchor="middle" dominant-baseline="central">0.015</text>
<text x="337.0" y="960.0" class="lb" text-anchor="middle" dominant-baseline="central">10p</text>
<text x="365.0" y="983.8" class="lb" text-anchor="middle" dominant-baseline="central">220K</text>
<text x="355.0" y="1012.0" class="lb" text-anchor="middle" dominant-baseline="central">47K</text>
<text x="407.5" y="959.5" class="lb" text-anchor="middle" dominant-baseline="central">0.22</text>
<text x="465.5" y="812.5" class="lb" text-anchor="middle" dominant-baseline="central">D</text>
<text x="460.0" y="831.0" class="lb" text-anchor="middle" dominant-baseline="central">S</text>
<text x="465.5" y="849.0" class="lb" text-anchor="middle" dominant-baseline="central">G</text>
<text x="430.0" y="896.0" class="lb" text-anchor="middle" dominant-baseline="central" transform="rotate(90 430.0 896.0)">20K</text>
<text x="464.2" y="912.5" class="lb" text-anchor="middle" dominant-baseline="central" transform="rotate(90 464.2 912.5)">20K</text>
<text x="490.5" y="876.1" class="lb" text-anchor="middle" dominant-baseline="central" transform="rotate(90 490.5 876.1)">100K</text>
<text x="546.0" y="828.0" class="lb" text-anchor="middle" dominant-baseline="central" style="font-size:9px;fill:#e8eee8;">+</text>
<text x="572.5" y="800.0" class="lb" text-anchor="middle" dominant-baseline="central">10uF</text>
<text x="596.0" y="819.0" class="lb" text-anchor="middle" dominant-baseline="central">0.47</text>
<text x="663.5" y="808.8" class="lb" text-anchor="middle" dominant-baseline="central">47K</text>
<text x="546.0" y="852.5" class="lb" text-anchor="middle" dominant-baseline="central">0.022</text>
<text x="555.0" y="885.0" class="lb" text-anchor="middle" dominant-baseline="central">48</text>
<text x="553.0" y="903.0" class="lb" text-anchor="middle" dominant-baseline="central">470K</text>
<text x="542.5" y="943.6" class="lb" text-anchor="middle" dominant-baseline="central">LM358</text>
<text x="648.8" y="880.0" class="lb" text-anchor="middle" dominant-baseline="central">LM308</text>
<text x="612.5" y="922.5" class="lb" text-anchor="middle" dominant-baseline="central">100p</text>
<text x="688.8" y="867.0" class="lb" text-anchor="middle" dominant-baseline="central">1M</text>
<text x="597.5" y="990.0" class="lb" text-anchor="middle" dominant-baseline="central">470K</text>
<text x="555.0" y="1010.0" class="lb" text-anchor="middle" dominant-baseline="central">48</text>
<text x="490.5" y="1010.6" class="lb" text-anchor="middle" dominant-baseline="central" transform="rotate(90 490.5 1010.6)">100K</text>
<text x="462.0" y="1019.5" class="lb" text-anchor="middle" dominant-baseline="central">S</text>
<text x="464.0" y="1037.5" class="lb" text-anchor="middle" dominant-baseline="central">G</text>
<text x="829.0" y="809.0" class="lb" text-anchor="middle" dominant-baseline="central">C</text>
<text x="816.0" y="840.5" class="lb" text-anchor="middle" dominant-baseline="central">B</text>
<text x="791.0" y="867.5" class="lb" text-anchor="middle" dominant-baseline="central">MPSA13</text>
<text x="885.0" y="857.5" class="lb" text-anchor="middle" dominant-baseline="central" style="font-size:9px;fill:#e8eee8;">+</text>
<text x="867.5" y="821.0" class="lb" text-anchor="middle" dominant-baseline="central">220uF</text>
<text x="787.5" y="894.5" class="lb" text-anchor="middle" dominant-baseline="central">SP</text>
<text x="863.0" y="883.0" class="lb" text-anchor="middle" dominant-baseline="central">-</text>
<text x="899.0" y="884.0" class="lb" text-anchor="middle" dominant-baseline="central">+</text>
<text x="870.0" y="897.5" class="lb" text-anchor="middle" dominant-baseline="central">Batt.</text>
<text x="810.8" y="913.8" class="lb" text-anchor="middle" dominant-baseline="central">SP</text>
<text x="722.5" y="831.2" class="lb" text-anchor="middle" dominant-baseline="central">0.022</text>
<text x="705.5" y="867.4" class="lb" text-anchor="middle" dominant-baseline="central" transform="rotate(90 705.5 867.4)">48</text>
<text x="733.0" y="938.8" class="lb" text-anchor="middle" dominant-baseline="central">330K</text>
<text x="697.0" y="956.8" class="lb" text-anchor="middle" dominant-baseline="central">2K2</text>
<text x="714.5" y="997.0" class="lb" text-anchor="middle" dominant-baseline="central" transform="rotate(90 714.5 997.0)">100K</text>
<text x="741.8" y="1030.0" class="lb" text-anchor="middle" dominant-baseline="central" transform="rotate(90 741.8 1030.0)">0.1</text>
<text x="785.6" y="999.8" class="lb" text-anchor="middle" dominant-baseline="central" transform="rotate(90 785.6 999.8)">LM358</text>
<text x="866.0" y="961.0" class="lb" text-anchor="middle" dominant-baseline="central">100K</text>
<text x="867.0" y="1019.5" class="lb" text-anchor="middle" dominant-baseline="central" transform="rotate(90 867.0 1019.5)">100K</text>
<text x="867.0" y="1086.8" class="lb" text-anchor="middle" dominant-baseline="central" transform="rotate(90 867.0 1086.8)">100K</text>
<text x="311.2" y="1082.5" class="lb" text-anchor="middle" dominant-baseline="central">LM393</text>
<text x="222.0" y="1109.2" class="lb" text-anchor="middle" dominant-baseline="central">24K</text>
<text x="329.0" y="1127.0" class="lb" text-anchor="middle" dominant-baseline="central">10K</text>
<text x="340.0" y="1154.5" class="lb" text-anchor="middle" dominant-baseline="central">Disc</text>
<text x="213.8" y="1151.2" class="lb" text-anchor="middle" dominant-baseline="central">SW</text>
<text x="310.0" y="1170.0" class="lb" text-anchor="middle" dominant-baseline="central">GEB</text>
<text x="291.2" y="1213.0" class="lb" text-anchor="middle" dominant-baseline="central">100K</text>
<text x="386.0" y="1118.8" class="lb" text-anchor="middle" dominant-baseline="central">15K</text>
<text x="475.5" y="1077.5" class="lb" text-anchor="middle" dominant-baseline="central">0.22</text>
<text x="428.2" y="1091.1" class="lb" text-anchor="middle" dominant-baseline="central" transform="rotate(90 428.2 1091.1)">100K</text>
<text x="443.0" y="1143.8" class="lb" text-anchor="middle" dominant-baseline="central">SW</text>
<text x="412.0" y="1175.0" class="lb" text-anchor="middle" dominant-baseline="central">15p</text>
<text x="501.5" y="1103.8" class="lb" text-anchor="middle" dominant-baseline="central" style="font-size:9px;fill:#e8eee8;">+</text>
<text x="512.5" y="1096.0" class="lb" text-anchor="middle" dominant-baseline="central">10uF</text>
<text x="480.0" y="1160.0" class="lb" text-anchor="middle" dominant-baseline="central" style="font-size:9px;fill:#e8eee8;">+</text>
<text x="490.0" y="1175.0" class="lb" text-anchor="middle" dominant-baseline="central">10uF</text>
<text x="531.2" y="1043.0" class="lb" text-anchor="middle" dominant-baseline="central">0.022</text>
<text x="558.8" y="1072.5" class="lb" text-anchor="middle" dominant-baseline="central">0.47</text>
<text x="511.2" y="1134.2" class="lb" text-anchor="middle" dominant-baseline="central">47K</text>
<text x="576.2" y="1143.8" class="lb" text-anchor="middle" dominant-baseline="central" transform="rotate(90 576.2 1143.8)">LM308</text>
<text x="605.0" y="1182.5" class="lb" text-anchor="middle" dominant-baseline="central">100p</text>
<text x="595.5" y="1045.8" class="lb" text-anchor="middle" dominant-baseline="central">0.022</text>
<text x="593.8" y="1085.0" class="lb" text-anchor="middle" dominant-baseline="central">48</text>
<text x="610.0" y="1110.0" class="lb" text-anchor="middle" dominant-baseline="central">1M</text>
<text x="768.0" y="1046.1" class="lb" text-anchor="middle" dominant-baseline="central">27K</text>
<text x="793.6" y="1077.5" class="lb" text-anchor="middle" dominant-baseline="central">100K</text>
<text x="807.0" y="1070.0" class="lb" text-anchor="middle" dominant-baseline="central" transform="rotate(90 807.0 1070.0)">100K</text>
<text x="852.0" y="1065.0" class="lb" text-anchor="middle" dominant-baseline="central" transform="rotate(90 852.0 1065.0)">100K</text>
<text x="755.3" y="1108.0" class="lb" text-anchor="middle" dominant-baseline="central">1M</text>
<text x="770.0" y="1121.0" class="lb" text-anchor="middle" dominant-baseline="central">48</text>
<text x="722.8" y="1075.8" class="lb" text-anchor="middle" dominant-baseline="central">Sens</text>
<text x="660.3" y="1110.6" class="lb" text-anchor="middle" dominant-baseline="central">LM393</text>
<text x="753.3" y="1142.0" class="lb" text-anchor="middle" dominant-baseline="central">220K</text>
<text x="733.0" y="1200.0" class="lb" text-anchor="middle" dominant-baseline="central">1K</text>
<text x="756.0" y="1200.0" class="lb" text-anchor="middle" dominant-baseline="central">1K</text>
<text x="782.0" y="1242.8" class="lb" text-anchor="middle" dominant-baseline="central">0.022</text>
<text x="801.1" y="1179.3" class="lb" text-anchor="middle" dominant-baseline="central" transform="rotate(90 801.1 1179.3)">100K</text>
<text x="845.0" y="1161.4" class="lb" text-anchor="middle" dominant-baseline="central">0.022</text>
<circle cx="212.60" cy="679.00" r="7.0" fill="#e2a823"/><circle cx="212.60" cy="679.00" r="2.3" fill="#000"/>
<circle cx="266.25" cy="679.00" r="7.0" fill="#e2a823"/><circle cx="266.25" cy="679.00" r="2.3" fill="#000"/>
<circle cx="212.60" cy="732.50" r="7.0" fill="#e2a823"/><circle cx="212.60" cy="732.50" r="2.3" fill="#000"/>
<circle cx="266.25" cy="732.50" r="7.0" fill="#e2a823"/><circle cx="266.25" cy="732.50" r="2.3" fill="#000"/>
<circle cx="293.75" cy="625.50" r="7.0" fill="#e2a823"/><circle cx="293.75" cy="625.50" r="2.3" fill="#000"/>
<circle cx="347.00" cy="625.50" r="7.0" fill="#e2a823"/><circle cx="347.00" cy="625.50" r="2.3" fill="#000"/>
<circle cx="365.00" cy="625.50" r="7.0" fill="#e2a823"/><circle cx="365.00" cy="625.50" r="2.3" fill="#000"/>
<circle cx="418.75" cy="625.50" r="7.0" fill="#e2a823"/><circle cx="418.75" cy="625.50" r="2.3" fill="#000"/>
<circle cx="329.00" cy="652.50" r="7.0" fill="#e2a823"/><circle cx="329.00" cy="652.50" r="2.3" fill="#000"/>
<circle cx="365.00" cy="652.50" r="7.0" fill="#e2a823"/><circle cx="365.00" cy="652.50" r="2.3" fill="#000"/>
<circle cx="347.00" cy="670.00" r="7.0" fill="#e2a823"/><circle cx="347.00" cy="670.00" r="2.3" fill="#000"/>
<circle cx="391.75" cy="652.50" r="7.0" fill="#e2a823"/><circle cx="391.75" cy="652.50" r="2.3" fill="#000"/>
<circle cx="427.50" cy="652.50" r="7.0" fill="#e2a823"/><circle cx="427.50" cy="652.50" r="2.3" fill="#000"/>
<circle cx="373.75" cy="688.00" r="7.0" fill="#e2a823"/><circle cx="373.75" cy="688.00" r="2.3" fill="#000"/>
<circle cx="427.50" cy="688.00" r="7.0" fill="#e2a823"/><circle cx="427.50" cy="688.00" r="2.3" fill="#000"/>
<circle cx="320.00" cy="705.75" r="7.0" fill="#e2a823"/><circle cx="320.00" cy="705.75" r="2.3" fill="#000"/>
<circle cx="373.75" cy="705.75" r="7.0" fill="#e2a823"/><circle cx="373.75" cy="705.75" r="2.3" fill="#000"/>
<circle cx="391.75" cy="705.75" r="7.0" fill="#e2a823"/><circle cx="391.75" cy="705.75" r="2.3" fill="#000"/>
<circle cx="445.75" cy="705.75" r="7.0" fill="#e2a823"/><circle cx="445.75" cy="705.75" r="2.3" fill="#000"/>
<circle cx="284.25" cy="741.75" r="7.0" fill="#e2a823"/><circle cx="284.25" cy="741.75" r="2.3" fill="#000"/>
<circle cx="320.00" cy="741.75" r="7.0" fill="#e2a823"/><circle cx="320.00" cy="741.75" r="2.3" fill="#000"/>
<circle cx="302.00" cy="723.75" r="7.0" fill="#e2a823"/><circle cx="302.00" cy="723.75" r="2.3" fill="#000"/>
<circle cx="347.00" cy="723.75" r="7.0" fill="#e2a823"/><circle cx="347.00" cy="723.75" r="2.3" fill="#000"/>
<circle cx="347.00" cy="777.50" r="7.0" fill="#e2a823"/><circle cx="347.00" cy="777.50" r="2.3" fill="#000"/>
<circle cx="391.75" cy="723.75" r="7.0" fill="#e2a823"/><circle cx="391.75" cy="723.75" r="2.3" fill="#000"/>
<circle cx="373.75" cy="741.75" r="7.0" fill="#e2a823"/><circle cx="373.75" cy="741.75" r="2.3" fill="#000"/>
<circle cx="410.00" cy="741.75" r="7.0" fill="#e2a823"/><circle cx="410.00" cy="741.75" r="2.3" fill="#000"/>
<circle cx="373.75" cy="759.50" r="7.0" fill="#e2a823"/><circle cx="373.75" cy="759.50" r="2.3" fill="#000"/>
<circle cx="427.50" cy="759.50" r="7.0" fill="#e2a823"/><circle cx="427.50" cy="759.50" r="2.3" fill="#000"/>
<circle cx="266.25" cy="777.50" r="7.0" fill="#e2a823"/><circle cx="266.25" cy="777.50" r="2.3" fill="#000"/>
<circle cx="266.25" cy="812.50" r="7.0" fill="#e2a823"/><circle cx="266.25" cy="812.50" r="2.3" fill="#000"/>
<circle cx="302.00" cy="777.50" r="7.0" fill="#e2a823"/><circle cx="302.00" cy="777.50" r="2.3" fill="#000"/>
<circle cx="302.00" cy="812.50" r="7.0" fill="#e2a823"/><circle cx="302.00" cy="812.50" r="2.3" fill="#000"/>
<circle cx="320.00" cy="795.50" r="7.0" fill="#e2a823"/><circle cx="320.00" cy="795.50" r="2.3" fill="#000"/>
<circle cx="373.75" cy="795.50" r="7.0" fill="#e2a823"/><circle cx="373.75" cy="795.50" r="2.3" fill="#000"/>
<circle cx="463.75" cy="589.50" r="7.0" fill="#e2a823"/><circle cx="463.75" cy="589.50" r="2.3" fill="#000"/>
<circle cx="463.75" cy="688.00" r="7.0" fill="#e2a823"/><circle cx="463.75" cy="688.00" r="2.3" fill="#000"/>
<circle cx="463.75" cy="732.50" r="7.0" fill="#e2a823"/><circle cx="463.75" cy="732.50" r="2.3" fill="#000"/>
<circle cx="463.75" cy="777.50" r="7.0" fill="#e2a823"/><circle cx="463.75" cy="777.50" r="2.3" fill="#000"/>
<circle cx="481.25" cy="616.25" r="5.8" fill="#e2a823"/><circle cx="481.25" cy="616.25" r="2.1" fill="#000"/>
<circle cx="481.25" cy="670.00" r="5.8" fill="#e2a823"/><circle cx="481.25" cy="670.00" r="2.1" fill="#000"/>
<circle cx="499.25" cy="616.25" r="5.8" fill="#e2a823"/><circle cx="499.25" cy="616.25" r="2.1" fill="#000"/>
<circle cx="499.25" cy="670.00" r="5.8" fill="#e2a823"/><circle cx="499.25" cy="670.00" r="2.1" fill="#000"/>
<circle cx="517.25" cy="616.25" r="5.8" fill="#e2a823"/><circle cx="517.25" cy="616.25" r="2.1" fill="#000"/>
<circle cx="517.25" cy="670.00" r="5.8" fill="#e2a823"/><circle cx="517.25" cy="670.00" r="2.1" fill="#000"/>
<circle cx="535.25" cy="616.25" r="5.8" fill="#e2a823"/><circle cx="535.25" cy="616.25" r="2.1" fill="#000"/>
<circle cx="535.25" cy="670.00" r="5.8" fill="#e2a823"/><circle cx="535.25" cy="670.00" r="2.1" fill="#000"/>
<circle cx="553.25" cy="616.25" r="5.8" fill="#e2a823"/><circle cx="553.25" cy="616.25" r="2.1" fill="#000"/>
<circle cx="553.25" cy="670.00" r="5.8" fill="#e2a823"/><circle cx="553.25" cy="670.00" r="2.1" fill="#000"/>
<circle cx="571.25" cy="616.25" r="5.8" fill="#e2a823"/><circle cx="571.25" cy="616.25" r="2.1" fill="#000"/>
<circle cx="571.25" cy="670.00" r="5.8" fill="#e2a823"/><circle cx="571.25" cy="670.00" r="2.1" fill="#000"/>
<circle cx="589.25" cy="616.25" r="5.8" fill="#e2a823"/><circle cx="589.25" cy="616.25" r="2.1" fill="#000"/>
<circle cx="589.25" cy="670.00" r="5.8" fill="#e2a823"/><circle cx="589.25" cy="670.00" r="2.1" fill="#000"/>
<circle cx="607.25" cy="616.25" r="5.8" fill="#e2a823"/><circle cx="607.25" cy="616.25" r="2.1" fill="#000"/>
<circle cx="607.25" cy="670.00" r="5.8" fill="#e2a823"/><circle cx="607.25" cy="670.00" r="2.1" fill="#000"/>
<circle cx="607.00" cy="616.25" r="7.0" fill="#e2a823"/><circle cx="607.00" cy="616.25" r="2.3" fill="#000"/>
<circle cx="607.00" cy="670.00" r="7.0" fill="#e2a823"/><circle cx="607.00" cy="670.00" r="2.3" fill="#000"/>
<circle cx="625.00" cy="598.25" r="7.0" fill="#e2a823"/><circle cx="625.00" cy="598.25" r="2.3" fill="#000"/>
<circle cx="678.75" cy="598.25" r="7.0" fill="#e2a823"/><circle cx="678.75" cy="598.25" r="2.3" fill="#000"/>
<circle cx="625.00" cy="625.00" r="7.0" fill="#e2a823"/><circle cx="625.00" cy="625.00" r="2.3" fill="#000"/>
<circle cx="678.75" cy="625.00" r="7.0" fill="#e2a823"/><circle cx="678.75" cy="625.00" r="2.3" fill="#000"/>
<circle cx="625.00" cy="652.00" r="7.0" fill="#e2a823"/><circle cx="625.00" cy="652.00" r="2.3" fill="#000"/>
<circle cx="678.75" cy="652.00" r="7.0" fill="#e2a823"/><circle cx="678.75" cy="652.00" r="2.3" fill="#000"/>
<circle cx="625.00" cy="679.25" r="7.0" fill="#e2a823"/><circle cx="625.00" cy="679.25" r="2.3" fill="#000"/>
<circle cx="678.75" cy="679.25" r="7.0" fill="#e2a823"/><circle cx="678.75" cy="679.25" r="2.3" fill="#000"/>
<circle cx="553.25" cy="697.00" r="7.0" fill="#e2a823"/><circle cx="553.25" cy="697.00" r="2.3" fill="#000"/>
<circle cx="607.00" cy="697.00" r="7.0" fill="#e2a823"/><circle cx="607.00" cy="697.00" r="2.3" fill="#000"/>
<circle cx="553.25" cy="715.00" r="7.0" fill="#e2a823"/><circle cx="553.25" cy="715.00" r="2.3" fill="#000"/>
<circle cx="607.00" cy="715.00" r="7.0" fill="#e2a823"/><circle cx="607.00" cy="715.00" r="2.3" fill="#000"/>
<circle cx="629.50" cy="706.25" r="7.0" fill="#e2a823"/><circle cx="629.50" cy="706.25" r="2.3" fill="#000"/>
<circle cx="629.50" cy="769.50" r="7.0" fill="#e2a823"/><circle cx="629.50" cy="769.50" r="2.3" fill="#000"/>
<circle cx="653.75" cy="714.50" r="7.0" fill="#e2a823"/><circle cx="653.75" cy="714.50" r="2.3" fill="#000"/>
<circle cx="653.75" cy="768.00" r="7.0" fill="#e2a823"/><circle cx="653.75" cy="768.00" r="2.3" fill="#000"/>
<circle cx="687.00" cy="715.00" r="7.0" fill="#e2a823"/><circle cx="687.00" cy="715.00" r="2.3" fill="#000"/>
<circle cx="490.50" cy="732.50" r="7.0" fill="#e2a823"/><circle cx="490.50" cy="732.50" r="2.3" fill="#000"/>
<circle cx="490.50" cy="768.75" r="7.0" fill="#e2a823"/><circle cx="490.50" cy="768.75" r="2.3" fill="#000"/>
<circle cx="526.25" cy="723.75" r="7.0" fill="#e2a823"/><circle cx="526.25" cy="723.75" r="2.3" fill="#000"/>
<circle cx="526.25" cy="768.75" r="7.0" fill="#e2a823"/><circle cx="526.25" cy="768.75" r="2.3" fill="#000"/>
<circle cx="557.50" cy="772.50" r="5.6" fill="#e2a823"/><circle cx="557.50" cy="772.50" r="2.0" fill="#000"/>
<circle cx="557.50" cy="786.75" r="5.6" fill="#e2a823"/><circle cx="557.50" cy="786.75" r="2.0" fill="#000"/>
<circle cx="705.50" cy="607.00" r="7.0" fill="#e2a823"/><circle cx="705.50" cy="607.00" r="2.3" fill="#000"/>
<circle cx="723.75" cy="625.00" r="7.0" fill="#e2a823"/><circle cx="723.75" cy="625.00" r="2.3" fill="#000"/>
<circle cx="705.50" cy="643.00" r="7.0" fill="#e2a823"/><circle cx="705.50" cy="643.00" r="2.3" fill="#000"/>
<circle cx="723.75" cy="661.25" r="7.0" fill="#e2a823"/><circle cx="723.75" cy="661.25" r="2.3" fill="#000"/>
<circle cx="705.50" cy="679.25" r="7.0" fill="#e2a823"/><circle cx="705.50" cy="679.25" r="2.3" fill="#000"/>
<circle cx="723.75" cy="697.00" r="7.0" fill="#e2a823"/><circle cx="723.75" cy="697.00" r="2.3" fill="#000"/>
<circle cx="768.75" cy="643.00" r="7.0" fill="#e2a823"/><circle cx="768.75" cy="643.00" r="2.2" fill="#000"/>
<circle cx="768.75" cy="679.25" r="7.0" fill="#e2a823"/><circle cx="768.75" cy="679.25" r="2.2" fill="#000"/>
<circle cx="840.00" cy="643.00" r="7.0" fill="#e2a823"/><circle cx="840.00" cy="643.00" r="2.2" fill="#000"/>
<circle cx="840.00" cy="679.25" r="7.0" fill="#e2a823"/><circle cx="840.00" cy="679.25" r="2.2" fill="#000"/>
<circle cx="750.00" cy="705.75" r="7.0" fill="#e2a823"/><circle cx="750.00" cy="705.75" r="2.3" fill="#000"/>
<circle cx="804.25" cy="705.75" r="7.0" fill="#e2a823"/><circle cx="804.25" cy="705.75" r="2.3" fill="#000"/>
<circle cx="690.00" cy="715.00" r="7.0" fill="#e2a823"/><circle cx="690.00" cy="715.00" r="2.3" fill="#000"/>
<circle cx="741.25" cy="715.00" r="7.0" fill="#e2a823"/><circle cx="741.25" cy="715.00" r="2.3" fill="#000"/>
<circle cx="695.00" cy="732.50" r="7.0" fill="#e2a823"/><circle cx="695.00" cy="732.50" r="2.3" fill="#000"/>
<circle cx="695.00" cy="790.00" r="7.0" fill="#e2a823"/><circle cx="695.00" cy="790.00" r="2.3" fill="#000"/>
<circle cx="750.00" cy="750.75" r="7.0" fill="#e2a823"/><circle cx="750.00" cy="750.75" r="2.3" fill="#000"/>
<circle cx="750.00" cy="795.00" r="7.0" fill="#e2a823"/><circle cx="750.00" cy="795.00" r="2.3" fill="#000"/>
<circle cx="822.50" cy="732.50" r="7.0" fill="#e2a823"/><circle cx="822.50" cy="732.50" r="2.2" fill="#000"/>
<circle cx="822.50" cy="768.75" r="7.0" fill="#e2a823"/><circle cx="822.50" cy="768.75" r="2.2" fill="#000"/>
<circle cx="885.00" cy="732.50" r="7.0" fill="#e2a823"/><circle cx="885.00" cy="732.50" r="2.3" fill="#000"/>
<circle cx="885.00" cy="750.75" r="7.0" fill="#e2a823"/><circle cx="885.00" cy="750.75" r="2.3" fill="#000"/>
<circle cx="885.00" cy="768.75" r="7.0" fill="#e2a823"/><circle cx="885.00" cy="768.75" r="2.3" fill="#000"/>
<circle cx="822.50" cy="795.50" r="7.0" fill="#e2a823"/><circle cx="822.50" cy="795.50" r="2.3" fill="#000"/>
<circle cx="876.25" cy="795.50" r="7.0" fill="#e2a823"/><circle cx="876.25" cy="795.50" r="2.3" fill="#000"/>
<circle cx="320.00" cy="831.25" r="7.0" fill="#e2a823"/><circle cx="320.00" cy="831.25" r="2.3" fill="#000"/>
<circle cx="373.75" cy="831.25" r="7.0" fill="#e2a823"/><circle cx="373.75" cy="831.25" r="2.3" fill="#000"/>
<circle cx="391.75" cy="831.25" r="7.0" fill="#e2a823"/><circle cx="391.75" cy="831.25" r="2.3" fill="#000"/>
<circle cx="262.50" cy="840.00" r="7.0" fill="#e2a823"/><circle cx="262.50" cy="840.00" r="2.3" fill="#000"/>
<circle cx="311.25" cy="840.00" r="7.0" fill="#e2a823"/><circle cx="311.25" cy="840.00" r="2.3" fill="#000"/>
<circle cx="257.50" cy="858.25" r="7.0" fill="#e2a823"/><circle cx="257.50" cy="858.25" r="2.3" fill="#000"/>
<circle cx="356.25" cy="858.25" r="7.0" fill="#e2a823"/><circle cx="356.25" cy="858.25" r="2.3" fill="#000"/>
<circle cx="371.25" cy="852.50" r="7.0" fill="#e2a823"/><circle cx="371.25" cy="852.50" r="2.3" fill="#000"/>
<circle cx="425.50" cy="852.50" r="7.0" fill="#e2a823"/><circle cx="425.50" cy="852.50" r="2.3" fill="#000"/>
<circle cx="320.00" cy="876.25" r="7.0" fill="#e2a823"/><circle cx="320.00" cy="876.25" r="2.3" fill="#000"/>
<circle cx="373.75" cy="876.25" r="7.0" fill="#e2a823"/><circle cx="373.75" cy="876.25" r="2.3" fill="#000"/>
<circle cx="391.75" cy="876.25" r="7.0" fill="#e2a823"/><circle cx="391.75" cy="876.25" r="2.3" fill="#000"/>
<circle cx="275.00" cy="894.25" r="7.0" fill="#e2a823"/><circle cx="275.00" cy="894.25" r="2.3" fill="#000"/>
<circle cx="310.75" cy="894.25" r="7.0" fill="#e2a823"/><circle cx="310.75" cy="894.25" r="2.3" fill="#000"/>
<circle cx="338.00" cy="894.25" r="5.8" fill="#e2a823"/><circle cx="338.00" cy="894.25" r="2.1" fill="#000"/>
<circle cx="338.00" cy="948.00" r="5.8" fill="#e2a823"/><circle cx="338.00" cy="948.00" r="2.1" fill="#000"/>
<circle cx="356.00" cy="894.25" r="5.8" fill="#e2a823"/><circle cx="356.00" cy="894.25" r="2.1" fill="#000"/>
<circle cx="356.00" cy="948.00" r="5.8" fill="#e2a823"/><circle cx="356.00" cy="948.00" r="2.1" fill="#000"/>
<circle cx="374.00" cy="894.25" r="5.8" fill="#e2a823"/><circle cx="374.00" cy="894.25" r="2.1" fill="#000"/>
<circle cx="374.00" cy="948.00" r="5.8" fill="#e2a823"/><circle cx="374.00" cy="948.00" r="2.1" fill="#000"/>
<circle cx="392.00" cy="894.25" r="5.8" fill="#e2a823"/><circle cx="392.00" cy="894.25" r="2.1" fill="#000"/>
<circle cx="392.00" cy="948.00" r="5.8" fill="#e2a823"/><circle cx="392.00" cy="948.00" r="2.1" fill="#000"/>
<circle cx="248.25" cy="911.75" r="7.0" fill="#e2a823"/><circle cx="248.25" cy="911.75" r="2.3" fill="#000"/>
<circle cx="248.25" cy="948.00" r="7.0" fill="#e2a823"/><circle cx="248.25" cy="948.00" r="2.3" fill="#000"/>
<circle cx="266.25" cy="930.00" r="7.0" fill="#e2a823"/><circle cx="266.25" cy="930.00" r="2.3" fill="#000"/>
<circle cx="320.00" cy="930.00" r="7.0" fill="#e2a823"/><circle cx="320.00" cy="930.00" r="2.3" fill="#000"/>
<circle cx="266.25" cy="948.00" r="7.0" fill="#e2a823"/><circle cx="266.25" cy="948.00" r="2.3" fill="#000"/>
<circle cx="320.00" cy="948.00" r="7.0" fill="#e2a823"/><circle cx="320.00" cy="948.00" r="2.3" fill="#000"/>
<circle cx="266.25" cy="974.25" r="7.0" fill="#e2a823"/><circle cx="266.25" cy="974.25" r="2.3" fill="#000"/>
<circle cx="311.25" cy="974.25" r="7.0" fill="#e2a823"/><circle cx="311.25" cy="974.25" r="2.3" fill="#000"/>
<circle cx="266.25" cy="1001.25" r="7.0" fill="#e2a823"/><circle cx="266.25" cy="1001.25" r="2.3" fill="#000"/>
<circle cx="301.25" cy="1001.25" r="7.0" fill="#e2a823"/><circle cx="301.25" cy="1001.25" r="2.3" fill="#000"/>
<circle cx="356.25" cy="965.75" r="7.0" fill="#e2a823"/><circle cx="356.25" cy="965.75" r="2.3" fill="#000"/>
<circle cx="373.75" cy="965.75" r="7.0" fill="#e2a823"/><circle cx="373.75" cy="965.75" r="2.3" fill="#000"/>
<circle cx="338.00" cy="983.75" r="7.0" fill="#e2a823"/><circle cx="338.00" cy="983.75" r="2.3" fill="#000"/>
<circle cx="391.75" cy="983.75" r="7.0" fill="#e2a823"/><circle cx="391.75" cy="983.75" r="2.3" fill="#000"/>
<circle cx="328.75" cy="1001.25" r="7.0" fill="#e2a823"/><circle cx="328.75" cy="1001.25" r="2.3" fill="#000"/>
<circle cx="382.50" cy="1001.25" r="7.0" fill="#e2a823"/><circle cx="382.50" cy="1001.25" r="2.3" fill="#000"/>
<circle cx="410.00" cy="975.00" r="7.0" fill="#e2a823"/><circle cx="410.00" cy="975.00" r="2.3" fill="#000"/>
<circle cx="445.00" cy="975.00" r="7.0" fill="#e2a823"/><circle cx="445.00" cy="975.00" r="2.3" fill="#000"/>
<circle cx="457.50" cy="813.25" r="7.0" fill="#e2a823"/><circle cx="457.50" cy="813.25" r="2.3" fill="#000"/>
<circle cx="475.50" cy="831.25" r="7.0" fill="#e2a823"/><circle cx="475.50" cy="831.25" r="2.3" fill="#000"/>
<circle cx="457.50" cy="849.25" r="7.0" fill="#e2a823"/><circle cx="457.50" cy="849.25" r="2.3" fill="#000"/>
<circle cx="465.50" cy="868.25" r="7.0" fill="#e2a823"/><circle cx="465.50" cy="868.25" r="2.3" fill="#000"/>
<circle cx="442.50" cy="883.25" r="7.0" fill="#e2a823"/><circle cx="442.50" cy="883.25" r="2.3" fill="#000"/>
<circle cx="442.50" cy="937.00" r="7.0" fill="#e2a823"/><circle cx="442.50" cy="937.00" r="2.3" fill="#000"/>
<circle cx="463.75" cy="894.50" r="7.0" fill="#e2a823"/><circle cx="463.75" cy="894.50" r="2.3" fill="#000"/>
<circle cx="463.75" cy="930.00" r="7.0" fill="#e2a823"/><circle cx="463.75" cy="930.00" r="2.3" fill="#000"/>
<circle cx="490.50" cy="849.25" r="7.0" fill="#e2a823"/><circle cx="490.50" cy="849.25" r="2.3" fill="#000"/>
<circle cx="490.50" cy="903.00" r="7.0" fill="#e2a823"/><circle cx="490.50" cy="903.00" r="2.3" fill="#000"/>
<circle cx="427.50" cy="956.75" r="7.0" fill="#e2a823"/><circle cx="427.50" cy="956.75" r="2.3" fill="#000"/>
<circle cx="490.50" cy="956.75" r="7.0" fill="#e2a823"/><circle cx="490.50" cy="956.75" r="2.3" fill="#000"/>
<circle cx="526.75" cy="795.50" r="7.0" fill="#e2a823"/><circle cx="526.75" cy="795.50" r="2.3" fill="#000"/>
<circle cx="526.75" cy="849.25" r="7.0" fill="#e2a823"/><circle cx="526.75" cy="849.25" r="2.3" fill="#000"/>
<circle cx="557.50" cy="813.25" r="5.6" fill="#e2a823"/><circle cx="557.50" cy="813.25" r="2.0" fill="#000"/>
<circle cx="557.50" cy="827.50" r="5.6" fill="#e2a823"/><circle cx="557.50" cy="827.50" r="2.0" fill="#000"/>
<circle cx="589.25" cy="804.25" r="7.0" fill="#e2a823"/><circle cx="589.25" cy="804.25" r="2.3" fill="#000"/>
<circle cx="625.00" cy="804.25" r="7.0" fill="#e2a823"/><circle cx="625.00" cy="804.25" r="2.3" fill="#000"/>
<circle cx="647.50" cy="791.25" r="7.0" fill="#e2a823"/><circle cx="647.50" cy="791.25" r="2.3" fill="#000"/>
<circle cx="647.50" cy="845.00" r="7.0" fill="#e2a823"/><circle cx="647.50" cy="845.00" r="2.3" fill="#000"/>
<circle cx="526.75" cy="867.50" r="7.0" fill="#e2a823"/><circle cx="526.75" cy="867.50" r="2.3" fill="#000"/>
<circle cx="562.50" cy="867.50" r="7.0" fill="#e2a823"/><circle cx="562.50" cy="867.50" r="2.3" fill="#000"/>
<circle cx="526.75" cy="885.00" r="7.0" fill="#e2a823"/><circle cx="526.75" cy="885.00" r="2.3" fill="#000"/>
<circle cx="580.00" cy="885.00" r="7.0" fill="#e2a823"/><circle cx="580.00" cy="885.00" r="2.3" fill="#000"/>
<circle cx="526.75" cy="903.00" r="7.0" fill="#e2a823"/><circle cx="526.75" cy="903.00" r="2.3" fill="#000"/>
<circle cx="580.00" cy="903.00" r="7.0" fill="#e2a823"/><circle cx="580.00" cy="903.00" r="2.3" fill="#000"/>
<circle cx="508.25" cy="921.25" r="5.8" fill="#e2a823"/><circle cx="508.25" cy="921.25" r="2.1" fill="#000"/>
<circle cx="508.25" cy="974.50" r="5.8" fill="#e2a823"/><circle cx="508.25" cy="974.50" r="2.1" fill="#000"/>
<circle cx="526.25" cy="921.25" r="5.8" fill="#e2a823"/><circle cx="526.25" cy="921.25" r="2.1" fill="#000"/>
<circle cx="526.25" cy="974.50" r="5.8" fill="#e2a823"/><circle cx="526.25" cy="974.50" r="2.1" fill="#000"/>
<circle cx="544.25" cy="921.25" r="5.8" fill="#e2a823"/><circle cx="544.25" cy="921.25" r="2.1" fill="#000"/>
<circle cx="544.25" cy="974.50" r="5.8" fill="#e2a823"/><circle cx="544.25" cy="974.50" r="2.1" fill="#000"/>
<circle cx="562.25" cy="921.25" r="5.8" fill="#e2a823"/><circle cx="562.25" cy="921.25" r="2.1" fill="#000"/>
<circle cx="562.25" cy="974.50" r="5.8" fill="#e2a823"/><circle cx="562.25" cy="974.50" r="2.1" fill="#000"/>
<circle cx="611.25" cy="858.25" r="5.8" fill="#e2a823"/><circle cx="611.25" cy="858.25" r="2.1" fill="#000"/>
<circle cx="611.25" cy="912.00" r="5.8" fill="#e2a823"/><circle cx="611.25" cy="912.00" r="2.1" fill="#000"/>
<circle cx="629.25" cy="858.25" r="5.8" fill="#e2a823"/><circle cx="629.25" cy="858.25" r="2.1" fill="#000"/>
<circle cx="629.25" cy="912.00" r="5.8" fill="#e2a823"/><circle cx="629.25" cy="912.00" r="2.1" fill="#000"/>
<circle cx="647.25" cy="858.25" r="5.8" fill="#e2a823"/><circle cx="647.25" cy="858.25" r="2.1" fill="#000"/>
<circle cx="647.25" cy="912.00" r="5.8" fill="#e2a823"/><circle cx="647.25" cy="912.00" r="2.1" fill="#000"/>
<circle cx="665.25" cy="858.25" r="5.8" fill="#e2a823"/><circle cx="665.25" cy="858.25" r="2.1" fill="#000"/>
<circle cx="665.25" cy="912.00" r="5.8" fill="#e2a823"/><circle cx="665.25" cy="912.00" r="2.1" fill="#000"/>
<circle cx="629.50" cy="934.50" r="7.0" fill="#e2a823"/><circle cx="629.50" cy="934.50" r="2.3" fill="#000"/>
<circle cx="665.00" cy="934.50" r="7.0" fill="#e2a823"/><circle cx="665.00" cy="934.50" r="2.3" fill="#000"/>
<circle cx="629.50" cy="956.75" r="7.0" fill="#e2a823"/><circle cx="629.50" cy="956.75" r="2.3" fill="#000"/>
<circle cx="629.50" cy="997.00" r="7.0" fill="#e2a823"/><circle cx="629.50" cy="997.00" r="2.3" fill="#000"/>
<circle cx="629.50" cy="1014.50" r="7.0" fill="#e2a823"/><circle cx="629.50" cy="1014.50" r="2.3" fill="#000"/>
<circle cx="670.00" cy="1014.50" r="7.0" fill="#e2a823"/><circle cx="670.00" cy="1014.50" r="2.3" fill="#000"/>
<circle cx="688.75" cy="840.00" r="7.0" fill="#e2a823"/><circle cx="688.75" cy="840.00" r="2.3" fill="#000"/>
<circle cx="688.75" cy="894.25" r="7.0" fill="#e2a823"/><circle cx="688.75" cy="894.25" r="2.3" fill="#000"/>
<circle cx="526.75" cy="992.50" r="7.0" fill="#e2a823"/><circle cx="526.75" cy="992.50" r="2.3" fill="#000"/>
<circle cx="580.00" cy="992.50" r="7.0" fill="#e2a823"/><circle cx="580.00" cy="992.50" r="2.3" fill="#000"/>
<circle cx="526.75" cy="1010.00" r="7.0" fill="#e2a823"/><circle cx="526.75" cy="1010.00" r="2.3" fill="#000"/>
<circle cx="580.00" cy="1010.00" r="7.0" fill="#e2a823"/><circle cx="580.00" cy="1010.00" r="2.3" fill="#000"/>
<circle cx="490.50" cy="983.75" r="7.0" fill="#e2a823"/><circle cx="490.50" cy="983.75" r="2.3" fill="#000"/>
<circle cx="490.50" cy="1037.50" r="7.0" fill="#e2a823"/><circle cx="490.50" cy="1037.50" r="2.3" fill="#000"/>
<circle cx="454.50" cy="1001.25" r="7.0" fill="#e2a823"/><circle cx="454.50" cy="1001.25" r="2.3" fill="#000"/>
<circle cx="472.50" cy="1019.50" r="7.0" fill="#e2a823"/><circle cx="472.50" cy="1019.50" r="2.3" fill="#000"/>
<circle cx="454.50" cy="1037.50" r="7.0" fill="#e2a823"/><circle cx="454.50" cy="1037.50" r="2.3" fill="#000"/>
<circle cx="822.00" cy="822.50" r="7.0" fill="#e2a823"/><circle cx="822.00" cy="822.50" r="2.3" fill="#000"/>
<circle cx="804.25" cy="840.50" r="7.0" fill="#e2a823"/><circle cx="804.25" cy="840.50" r="2.3" fill="#000"/>
<circle cx="822.00" cy="858.25" r="7.0" fill="#e2a823"/><circle cx="822.00" cy="858.25" r="2.3" fill="#000"/>
<circle cx="849.25" cy="840.50" r="7.0" fill="#e2a823"/><circle cx="849.25" cy="840.50" r="2.2" fill="#000"/>
<circle cx="885.00" cy="840.50" r="7.0" fill="#e2a823"/><circle cx="885.00" cy="840.50" r="2.2" fill="#000"/>
<circle cx="800.00" cy="885.00" r="7.0" fill="#e2a823"/><circle cx="800.00" cy="885.00" r="2.3" fill="#000"/>
<circle cx="849.25" cy="885.00" r="7.0" fill="#e2a823"/><circle cx="849.25" cy="885.00" r="2.3" fill="#000"/>
<circle cx="885.00" cy="885.00" r="7.0" fill="#e2a823"/><circle cx="885.00" cy="885.00" r="2.3" fill="#000"/>
<circle cx="827.00" cy="912.00" r="7.0" fill="#e2a823"/><circle cx="827.00" cy="912.00" r="2.3" fill="#000"/>
<circle cx="723.75" cy="845.00" r="7.0" fill="#e2a823"/><circle cx="723.75" cy="845.00" r="2.3" fill="#000"/>
<circle cx="723.75" cy="881.25" r="7.0" fill="#e2a823"/><circle cx="723.75" cy="881.25" r="2.3" fill="#000"/>
<circle cx="705.50" cy="840.50" r="7.0" fill="#e2a823"/><circle cx="705.50" cy="840.50" r="2.3" fill="#000"/>
<circle cx="705.50" cy="894.25" r="7.0" fill="#e2a823"/><circle cx="705.50" cy="894.25" r="2.3" fill="#000"/>
<circle cx="705.50" cy="938.75" r="7.0" fill="#e2a823"/><circle cx="705.50" cy="938.75" r="2.3" fill="#000"/>
<circle cx="759.50" cy="938.75" r="7.0" fill="#e2a823"/><circle cx="759.50" cy="938.75" r="2.3" fill="#000"/>
<circle cx="773.00" cy="948.00" r="7.0" fill="#e2a823"/><circle cx="773.00" cy="948.00" r="2.3" fill="#000"/>
<circle cx="813.00" cy="948.00" r="7.0" fill="#e2a823"/><circle cx="813.00" cy="948.00" r="2.3" fill="#000"/>
<circle cx="670.00" cy="956.75" r="7.0" fill="#e2a823"/><circle cx="670.00" cy="956.75" r="2.3" fill="#000"/>
<circle cx="723.75" cy="956.75" r="7.0" fill="#e2a823"/><circle cx="723.75" cy="956.75" r="2.3" fill="#000"/>
<circle cx="714.50" cy="970.50" r="7.0" fill="#e2a823"/><circle cx="714.50" cy="970.50" r="2.3" fill="#000"/>
<circle cx="714.50" cy="1023.50" r="7.0" fill="#e2a823"/><circle cx="714.50" cy="1023.50" r="2.3" fill="#000"/>
<circle cx="732.60" cy="979.40" r="7.0" fill="#e2a823"/><circle cx="732.60" cy="979.40" r="2.3" fill="#000"/>
<circle cx="732.60" cy="1015.10" r="7.0" fill="#e2a823"/><circle cx="732.60" cy="1015.10" r="2.3" fill="#000"/>
<circle cx="755.40" cy="970.30" r="5.8" fill="#e2a823"/><circle cx="755.40" cy="970.30" r="2.1" fill="#000"/>
<circle cx="809.40" cy="970.30" r="5.8" fill="#e2a823"/><circle cx="809.40" cy="970.30" r="2.1" fill="#000"/>
<circle cx="755.40" cy="988.10" r="5.8" fill="#e2a823"/><circle cx="755.40" cy="988.10" r="2.1" fill="#000"/>
<circle cx="809.40" cy="988.10" r="5.8" fill="#e2a823"/><circle cx="809.40" cy="988.10" r="2.1" fill="#000"/>
<circle cx="755.40" cy="1005.90" r="5.8" fill="#e2a823"/><circle cx="755.40" cy="1005.90" r="2.1" fill="#000"/>
<circle cx="809.40" cy="1005.90" r="5.8" fill="#e2a823"/><circle cx="809.40" cy="1005.90" r="2.1" fill="#000"/>
<circle cx="755.40" cy="1023.70" r="5.8" fill="#e2a823"/><circle cx="755.40" cy="1023.70" r="2.1" fill="#000"/>
<circle cx="809.40" cy="1023.70" r="5.8" fill="#e2a823"/><circle cx="809.40" cy="1023.70" r="2.1" fill="#000"/>
<circle cx="885.00" cy="934.60" r="7.0" fill="#e2a823"/><circle cx="885.00" cy="934.60" r="2.3" fill="#000"/>
<circle cx="885.00" cy="988.60" r="7.0" fill="#e2a823"/><circle cx="885.00" cy="988.60" r="2.3" fill="#000"/>
<circle cx="867.00" cy="992.70" r="7.0" fill="#e2a823"/><circle cx="867.00" cy="992.70" r="2.3" fill="#000"/>
<circle cx="867.00" cy="1046.30" r="7.0" fill="#e2a823"/><circle cx="867.00" cy="1046.30" r="2.3" fill="#000"/>
<circle cx="867.00" cy="1060.00" r="7.0" fill="#e2a823"/><circle cx="867.00" cy="1060.00" r="2.3" fill="#000"/>
<circle cx="867.00" cy="1113.60" r="7.0" fill="#e2a823"/><circle cx="867.00" cy="1113.60" r="2.3" fill="#000"/>
<circle cx="266.25" cy="1046.25" r="7.0" fill="#e2a823"/><circle cx="266.25" cy="1046.25" r="2.3" fill="#000"/>
<circle cx="284.25" cy="1055.50" r="5.8" fill="#e2a823"/><circle cx="284.25" cy="1055.50" r="2.1" fill="#000"/>
<circle cx="284.25" cy="1109.25" r="5.8" fill="#e2a823"/><circle cx="284.25" cy="1109.25" r="2.1" fill="#000"/>
<circle cx="302.25" cy="1055.50" r="5.8" fill="#e2a823"/><circle cx="302.25" cy="1055.50" r="2.1" fill="#000"/>
<circle cx="302.25" cy="1109.25" r="5.8" fill="#e2a823"/><circle cx="302.25" cy="1109.25" r="2.1" fill="#000"/>
<circle cx="320.25" cy="1055.50" r="5.8" fill="#e2a823"/><circle cx="320.25" cy="1055.50" r="2.1" fill="#000"/>
<circle cx="320.25" cy="1109.25" r="5.8" fill="#e2a823"/><circle cx="320.25" cy="1109.25" r="2.1" fill="#000"/>
<circle cx="338.25" cy="1055.50" r="5.8" fill="#e2a823"/><circle cx="338.25" cy="1055.50" r="2.1" fill="#000"/>
<circle cx="338.25" cy="1109.25" r="5.8" fill="#e2a823"/><circle cx="338.25" cy="1109.25" r="2.1" fill="#000"/>
<circle cx="355.50" cy="1055.50" r="7.0" fill="#e2a823"/><circle cx="355.50" cy="1055.50" r="2.3" fill="#000"/>
<circle cx="355.50" cy="1100.00" r="7.0" fill="#e2a823"/><circle cx="355.50" cy="1100.00" r="2.3" fill="#000"/>
<circle cx="194.50" cy="1109.25" r="7.0" fill="#e2a823"/><circle cx="194.50" cy="1109.25" r="2.3" fill="#000"/>
<circle cx="248.25" cy="1109.25" r="7.0" fill="#e2a823"/><circle cx="248.25" cy="1109.25" r="2.3" fill="#000"/>
<circle cx="266.25" cy="1127.50" r="7.0" fill="#e2a823"/><circle cx="266.25" cy="1127.50" r="2.3" fill="#000"/>
<circle cx="302.00" cy="1127.00" r="7.0" fill="#e2a823"/><circle cx="302.00" cy="1127.00" r="2.3" fill="#000"/>
<circle cx="355.50" cy="1127.00" r="7.0" fill="#e2a823"/><circle cx="355.50" cy="1127.00" r="2.3" fill="#000"/>
<circle cx="355.50" cy="1145.00" r="7.0" fill="#e2a823"/><circle cx="355.50" cy="1145.00" r="2.3" fill="#000"/>
<circle cx="221.75" cy="1136.25" r="7.0" fill="#e2a823"/><circle cx="221.75" cy="1136.25" r="2.3" fill="#000"/>
<circle cx="266.25" cy="1172.00" r="10.0" fill="#e2a823"/><circle cx="266.25" cy="1172.00" r="4.0" fill="#000"/>
<circle cx="266.25" cy="1207.50" r="10.0" fill="#e2a823"/><circle cx="266.25" cy="1207.50" r="4.0" fill="#000"/>
<circle cx="338.00" cy="1189.50" r="10.0" fill="#e2a823"/><circle cx="338.00" cy="1189.50" r="4.0" fill="#000"/>
<circle cx="400.50" cy="1091.25" r="7.0" fill="#e2a823"/><circle cx="400.50" cy="1091.25" r="2.3" fill="#000"/>
<circle cx="400.50" cy="1145.00" r="7.0" fill="#e2a823"/><circle cx="400.50" cy="1145.00" r="2.3" fill="#000"/>
<circle cx="377.50" cy="1212.00" r="7.0" fill="#e2a823"/><circle cx="377.50" cy="1212.00" r="2.3" fill="#000"/>
<circle cx="427.50" cy="1212.00" r="7.0" fill="#e2a823"/><circle cx="427.50" cy="1212.00" r="2.3" fill="#000"/>
<circle cx="454.50" cy="1064.25" r="7.0" fill="#e2a823"/><circle cx="454.50" cy="1064.25" r="2.3" fill="#000"/>
<circle cx="454.50" cy="1100.50" r="7.0" fill="#e2a823"/><circle cx="454.50" cy="1100.50" r="2.3" fill="#000"/>
<circle cx="428.25" cy="1064.25" r="7.0" fill="#e2a823"/><circle cx="428.25" cy="1064.25" r="2.3" fill="#000"/>
<circle cx="428.25" cy="1118.00" r="7.0" fill="#e2a823"/><circle cx="428.25" cy="1118.00" r="2.3" fill="#000"/>
<circle cx="427.00" cy="1145.00" r="7.0" fill="#e2a823"/><circle cx="427.00" cy="1145.00" r="2.3" fill="#000"/>
<circle cx="427.50" cy="1172.00" r="7.0" fill="#e2a823"/><circle cx="427.50" cy="1172.00" r="2.3" fill="#000"/>
<circle cx="427.50" cy="1189.50" r="7.0" fill="#e2a823"/><circle cx="427.50" cy="1189.50" r="2.3" fill="#000"/>
<circle cx="508.25" cy="1028.75" r="7.0" fill="#e2a823"/><circle cx="508.25" cy="1028.75" r="2.3" fill="#000"/>
<circle cx="508.25" cy="1082.50" r="7.0" fill="#e2a823"/><circle cx="508.25" cy="1082.50" r="2.3" fill="#000"/>
<circle cx="490.75" cy="1104.25" r="5.6" fill="#e2a823"/><circle cx="490.75" cy="1104.25" r="2.0" fill="#000"/>
<circle cx="490.75" cy="1118.75" r="5.6" fill="#e2a823"/><circle cx="490.75" cy="1118.75" r="2.0" fill="#000"/>
<circle cx="490.75" cy="1145.00" r="5.6" fill="#e2a823"/><circle cx="490.75" cy="1145.00" r="2.0" fill="#000"/>
<circle cx="490.75" cy="1159.50" r="5.6" fill="#e2a823"/><circle cx="490.75" cy="1159.50" r="2.0" fill="#000"/>
<circle cx="526.25" cy="1028.75" r="7.0" fill="#e2a823"/><circle cx="526.25" cy="1028.75" r="2.3" fill="#000"/>
<circle cx="562.00" cy="1028.75" r="7.0" fill="#e2a823"/><circle cx="562.00" cy="1028.75" r="2.3" fill="#000"/>
<circle cx="539.50" cy="1055.50" r="7.0" fill="#e2a823"/><circle cx="539.50" cy="1055.50" r="2.3" fill="#000"/>
<circle cx="539.50" cy="1091.25" r="7.0" fill="#e2a823"/><circle cx="539.50" cy="1091.25" r="2.3" fill="#000"/>
<circle cx="526.25" cy="1118.00" r="7.0" fill="#e2a823"/><circle cx="526.25" cy="1118.00" r="2.3" fill="#000"/>
<circle cx="526.25" cy="1172.00" r="7.0" fill="#e2a823"/><circle cx="526.25" cy="1172.00" r="2.3" fill="#000"/>
<circle cx="548.75" cy="1118.00" r="5.8" fill="#e2a823"/><circle cx="548.75" cy="1118.00" r="2.1" fill="#000"/>
<circle cx="602.50" cy="1118.00" r="5.8" fill="#e2a823"/><circle cx="602.50" cy="1118.00" r="2.1" fill="#000"/>
<circle cx="548.75" cy="1136.00" r="5.8" fill="#e2a823"/><circle cx="548.75" cy="1136.00" r="2.1" fill="#000"/>
<circle cx="602.50" cy="1136.00" r="5.8" fill="#e2a823"/><circle cx="602.50" cy="1136.00" r="2.1" fill="#000"/>
<circle cx="548.75" cy="1154.00" r="5.8" fill="#e2a823"/><circle cx="548.75" cy="1154.00" r="2.1" fill="#000"/>
<circle cx="602.50" cy="1154.00" r="5.8" fill="#e2a823"/><circle cx="602.50" cy="1154.00" r="2.1" fill="#000"/>
<circle cx="548.75" cy="1172.00" r="5.8" fill="#e2a823"/><circle cx="548.75" cy="1172.00" r="2.1" fill="#000"/>
<circle cx="602.50" cy="1172.00" r="5.8" fill="#e2a823"/><circle cx="602.50" cy="1172.00" r="2.1" fill="#000"/>
<circle cx="566.25" cy="1194.50" r="7.0" fill="#e2a823"/><circle cx="566.25" cy="1194.50" r="2.3" fill="#000"/>
<circle cx="584.50" cy="1194.50" r="7.0" fill="#e2a823"/><circle cx="584.50" cy="1194.50" r="2.3" fill="#000"/>
<circle cx="544.25" cy="1212.00" r="7.0" fill="#e2a823"/><circle cx="544.25" cy="1212.00" r="2.3" fill="#000"/>
<circle cx="589.50" cy="1212.00" r="7.0" fill="#e2a823"/><circle cx="589.50" cy="1212.00" r="2.3" fill="#000"/>
<circle cx="620.50" cy="1158.75" r="7.0" fill="#e2a823"/><circle cx="620.50" cy="1158.75" r="2.3" fill="#000"/>
<circle cx="620.50" cy="1208.00" r="7.0" fill="#e2a823"/><circle cx="620.50" cy="1208.00" r="2.3" fill="#000"/>
<circle cx="593.75" cy="1060.00" r="7.0" fill="#e2a823"/><circle cx="593.75" cy="1060.00" r="2.3" fill="#000"/>
<circle cx="629.50" cy="1060.00" r="7.0" fill="#e2a823"/><circle cx="629.50" cy="1060.00" r="2.3" fill="#000"/>
<circle cx="585.00" cy="1077.50" r="7.0" fill="#e2a823"/><circle cx="585.00" cy="1077.50" r="2.3" fill="#000"/>
<circle cx="638.75" cy="1077.50" r="7.0" fill="#e2a823"/><circle cx="638.75" cy="1077.50" r="2.3" fill="#000"/>
<circle cx="585.00" cy="1095.75" r="7.0" fill="#e2a823"/><circle cx="585.00" cy="1095.75" r="2.3" fill="#000"/>
<circle cx="638.75" cy="1095.75" r="7.0" fill="#e2a823"/><circle cx="638.75" cy="1095.75" r="2.3" fill="#000"/>
<circle cx="741.70" cy="1046.10" r="7.0" fill="#e2a823"/><circle cx="741.70" cy="1046.10" r="2.3" fill="#000"/>
<circle cx="795.60" cy="1046.10" r="7.0" fill="#e2a823"/><circle cx="795.60" cy="1046.10" r="2.3" fill="#000"/>
<circle cx="755.30" cy="1064.20" r="7.0" fill="#e2a823"/><circle cx="755.30" cy="1064.20" r="2.3" fill="#000"/>
<circle cx="808.90" cy="1064.20" r="7.0" fill="#e2a823"/><circle cx="808.90" cy="1064.20" r="2.3" fill="#000"/>
<circle cx="822.20" cy="1041.90" r="7.0" fill="#e2a823"/><circle cx="822.20" cy="1041.90" r="2.3" fill="#000"/>
<circle cx="822.20" cy="1095.60" r="7.0" fill="#e2a823"/><circle cx="822.20" cy="1095.60" r="2.3" fill="#000"/>
<circle cx="840.30" cy="1041.90" r="7.0" fill="#e2a823"/><circle cx="840.30" cy="1041.90" r="2.3" fill="#000"/>
<circle cx="840.30" cy="1095.60" r="7.0" fill="#e2a823"/><circle cx="840.30" cy="1095.60" r="2.3" fill="#000"/>
<circle cx="755.30" cy="1077.50" r="7.0" fill="#e2a823"/><circle cx="755.30" cy="1077.50" r="2.3" fill="#000"/>
<circle cx="755.30" cy="1131.40" r="7.0" fill="#e2a823"/><circle cx="755.30" cy="1131.40" r="2.3" fill="#000"/>
<circle cx="777.50" cy="1077.50" r="7.0" fill="#e2a823"/><circle cx="777.50" cy="1077.50" r="2.3" fill="#000"/>
<circle cx="777.50" cy="1131.40" r="7.0" fill="#e2a823"/><circle cx="777.50" cy="1131.40" r="2.3" fill="#000"/>
<circle cx="678.30" cy="1064.20" r="7.0" fill="#e2a823"/><circle cx="678.30" cy="1064.20" r="2.3" fill="#000"/>
<circle cx="678.30" cy="1203.00" r="7.0" fill="#e2a823"/><circle cx="678.30" cy="1203.00" r="2.3" fill="#000"/>
<circle cx="701.40" cy="1091.10" r="7.0" fill="#e2a823"/><circle cx="701.40" cy="1091.10" r="2.3" fill="#000"/>
<circle cx="732.50" cy="1091.10" r="7.0" fill="#e2a823"/><circle cx="732.50" cy="1091.10" r="2.3" fill="#000"/>
<circle cx="656.10" cy="1127.50" r="5.8" fill="#e2a823"/><circle cx="656.10" cy="1127.50" r="2.1" fill="#000"/>
<circle cx="710.30" cy="1127.50" r="5.8" fill="#e2a823"/><circle cx="710.30" cy="1127.50" r="2.1" fill="#000"/>
<circle cx="656.10" cy="1145.50" r="5.8" fill="#e2a823"/><circle cx="656.10" cy="1145.50" r="2.1" fill="#000"/>
<circle cx="710.30" cy="1145.50" r="5.8" fill="#e2a823"/><circle cx="710.30" cy="1145.50" r="2.1" fill="#000"/>
<circle cx="656.10" cy="1163.50" r="5.8" fill="#e2a823"/><circle cx="656.10" cy="1163.50" r="2.1" fill="#000"/>
<circle cx="710.30" cy="1163.50" r="5.8" fill="#e2a823"/><circle cx="710.30" cy="1163.50" r="2.1" fill="#000"/>
<circle cx="656.10" cy="1181.50" r="5.8" fill="#e2a823"/><circle cx="656.10" cy="1181.50" r="2.1" fill="#000"/>
<circle cx="710.30" cy="1181.50" r="5.8" fill="#e2a823"/><circle cx="710.30" cy="1181.50" r="2.1" fill="#000"/>
<circle cx="732.50" cy="1109.20" r="7.0" fill="#e2a823"/><circle cx="732.50" cy="1109.20" r="2.3" fill="#000"/>
<circle cx="732.50" cy="1162.80" r="7.0" fill="#e2a823"/><circle cx="732.50" cy="1162.80" r="2.3" fill="#000"/>
<circle cx="755.30" cy="1158.60" r="7.0" fill="#e2a823"/><circle cx="755.30" cy="1158.60" r="2.3" fill="#000"/>
<circle cx="732.50" cy="1180.80" r="7.0" fill="#e2a823"/><circle cx="732.50" cy="1180.80" r="2.3" fill="#000"/>
<circle cx="732.50" cy="1234.40" r="7.0" fill="#e2a823"/><circle cx="732.50" cy="1234.40" r="2.3" fill="#000"/>
<circle cx="755.30" cy="1180.80" r="7.0" fill="#e2a823"/><circle cx="755.30" cy="1180.80" r="2.3" fill="#000"/>
<circle cx="755.30" cy="1234.40" r="7.0" fill="#e2a823"/><circle cx="755.30" cy="1234.40" r="2.3" fill="#000"/>
<circle cx="780.60" cy="1190.60" r="7.0" fill="#e2a823"/><circle cx="780.60" cy="1190.60" r="2.3" fill="#000"/>
<circle cx="780.60" cy="1226.10" r="7.0" fill="#e2a823"/><circle cx="780.60" cy="1226.10" r="2.3" fill="#000"/>
<circle cx="801.10" cy="1152.20" r="7.0" fill="#e2a823"/><circle cx="801.10" cy="1152.20" r="2.3" fill="#000"/>
<circle cx="801.10" cy="1206.40" r="7.0" fill="#e2a823"/><circle cx="801.10" cy="1206.40" r="2.3" fill="#000"/>
<circle cx="822.20" cy="1127.50" r="7.0" fill="#e2a823"/><circle cx="822.20" cy="1127.50" r="2.3" fill="#000"/>
<circle cx="822.20" cy="1162.80" r="7.0" fill="#e2a823"/><circle cx="822.20" cy="1162.80" r="2.3" fill="#000"/>
<circle cx="629.70" cy="1060.00" r="7.0" fill="#e2a823"/><circle cx="629.70" cy="1060.00" r="2.3" fill="#000"/>
<circle cx="638.00" cy="1078.00" r="7.0" fill="#e2a823"/><circle cx="638.00" cy="1078.00" r="2.3" fill="#000"/>
<circle cx="638.00" cy="1095.60" r="7.0" fill="#e2a823"/><circle cx="638.00" cy="1095.60" r="2.3" fill="#000"/>
<path d="M111.0 363.0 C115.0 362.8 128.2 362.2 135.0 362.0 C141.8 361.8 146.8 361.9 152.0 361.7 C157.2 361.5 163.2 362.9 166.0 361.0 C168.8 359.1 168.1 354.0 168.9 350.0 C169.7 346.0 169.7 339.9 170.6 337.0 C171.5 334.1 173.1 332.4 174.4 332.4 C175.8 332.4 178.0 334.4 178.7 337.2 C179.3 340.0 178.8 345.6 178.3 349.4 C177.8 353.2 175.9 357.0 175.5 360.0 C175.1 363.0 175.1 365.4 176.0 367.5 C176.9 369.6 178.9 372.1 181.1 372.6 C183.3 373.1 186.4 372.6 189.0 370.6 C191.6 368.6 194.8 364.3 196.7 360.6 C198.6 356.9 200.1 348.3 200.6 348.3 C201.1 348.3 198.0 357.1 199.6 360.6 C201.2 364.1 206.8 368.5 210.0 369.4 C213.2 370.3 215.9 368.9 218.9 366.1 C221.9 363.3 225.4 356.7 227.8 352.8 C230.2 348.9 231.5 341.9 233.3 342.8 C235.2 343.7 237.2 354.8 238.9 358.3 C240.6 361.8 241.6 363.9 243.3 363.9 C245.0 363.9 247.5 360.5 248.9 358.3 C250.3 356.1 249.8 351.5 251.5 350.6 C253.2 349.7 256.1 351.5 258.9 352.8 C261.6 354.1 263.6 357.1 268.0 358.5 C272.4 359.9 278.0 360.9 285.0 361.0 C292.0 361.1 301.3 359.7 310.0 359.0 C318.7 358.3 332.5 357.3 337.0 357.0" class="m"/>
<path d="M226.3 406.3 L240.0 403.0 L258.8 400.5" class="m"/>
<path d="M243.8 406.0 L249.0 420.0 L255.0 433.8" class="m"/>
<path d="M272.5 402.5 L290.0 414.0 L308.8 426.3" class="m"/>
<path d="M297.6 399.2 C296.2 401.1 291.8 406.0 289.4 410.4 C287.0 414.8 284.5 421.0 283.3 425.6 C282.1 430.2 282.5 435.8 282.3 437.9" class="m"/>
<path d="M219.2 440.0 C220.2 440.3 223.4 440.2 225.3 442.0 C227.2 443.8 229.4 448.1 230.4 451.0 C231.4 453.9 231.9 456.6 231.4 459.3 C230.9 462.0 228.7 465.0 227.3 467.4 C225.9 469.8 222.7 471.8 223.2 473.5 C223.7 475.2 227.7 476.8 230.4 477.6 C233.1 478.5 238.0 478.4 239.5 478.6" class="m"/>
<path d="M296.3 440.0 L301.3 472.5" class="m"/>
<path d="M242.0 443.8 C242.6 446.5 244.1 452.3 245.5 460.0 C246.9 467.7 248.9 480.0 250.5 490.0 C252.1 500.0 253.0 505.8 255.0 520.0 C257.0 534.2 260.8 555.0 262.5 575.0 C264.2 595.0 265.1 619.2 265.5 640.0 C265.9 660.8 265.2 676.7 265.0 700.0 C264.8 723.3 264.4 757.9 264.5 780.0 C264.6 802.1 265.3 823.8 265.5 832.5" class="m"/>
<path d="M269.6 440.0 C270.5 441.2 273.9 442.6 275.2 447.0 C276.5 451.4 276.6 459.2 277.2 466.4 C277.8 473.6 277.8 481.1 278.5 490.0 C279.2 498.9 279.6 499.2 281.3 520.0 C283.0 540.8 285.5 582.5 288.8 615.0 C292.1 647.5 297.9 687.5 301.3 715.0 C304.7 742.5 306.9 758.8 309.0 780.0 C311.1 801.2 313.0 832.1 313.8 842.5" class="m"/>
<path d="M807.5 881.3 C812.9 878.8 827.9 872.3 840.0 866.3 C852.1 860.2 867.5 852.5 880.0 845.0 C892.5 837.5 905.0 827.5 915.0 821.3 C925.0 815.0 934.0 810.9 940.0 807.5 C946.0 804.1 949.2 802.1 951.0 801.0" class="m"/>
<path d="M836.3 913.8 C841.1 910.2 854.0 901.0 865.0 892.5 C876.0 884.0 890.0 872.5 902.5 862.5 C915.0 852.5 930.1 840.1 940.0 832.5 C949.9 824.9 958.3 819.3 962.0 816.7" class="m"/>
<path d="M981.1 782.8 C979.8 784.0 974.8 787.5 973.3 790.0 C971.8 792.5 971.3 795.6 972.2 797.8 C973.1 800.0 975.4 801.4 978.9 803.3 C982.4 805.1 990.5 807.0 993.3 808.9 C996.1 810.8 996.3 812.5 995.6 814.4 C994.9 816.2 992.2 818.3 988.9 820.0 C985.6 821.7 977.8 823.7 975.6 824.4" class="m"/>
<path d="M1010.6 782.2 C1010.9 786.0 1011.7 797.2 1012.5 805.0 C1013.3 812.8 1015.1 824.9 1015.6 828.9" class="m"/>
<path d="M1012.2 788.9 C1015.0 789.3 1025.1 789.2 1028.9 791.1 C1032.7 793.0 1034.5 797.2 1035.0 800.0 C1035.5 802.8 1035.1 805.6 1032.2 807.8 C1029.3 810.0 1020.2 812.4 1017.8 813.3" class="m"/>
<path d="M891.0 886.7 C893.6 891.5 901.5 907.0 906.7 915.5 C911.9 924.0 916.5 930.4 922.0 937.8 C927.5 945.2 934.0 951.5 940.0 960.0 C946.0 968.5 952.2 980.8 957.8 989.0 C963.3 997.2 970.7 1005.7 973.3 1009.0" class="m"/>
<path d="M853.0 891.0 C857.5 898.0 871.0 919.3 880.0 933.0 C889.0 946.7 897.9 958.5 906.7 973.0 C915.5 987.5 924.6 1004.7 933.0 1020.0 C941.4 1035.3 953.0 1057.2 957.0 1064.6" class="m"/>
<path d="M981.4 1032.0 L1013.3 1031.3" class="m"/>
<path d="M997.4 1021.5 L1000.8 1044.4" class="m"/>
<path d="M948.0 1081.3 L974.4 1083.3" class="m"/>
<path d="M996.7 1066.0 L993.9 1088.9" class="m"/>
<path d="M1013.3 1066.0 C1014.6 1066.0 1018.7 1064.7 1021.0 1066.0 C1023.3 1067.3 1026.2 1070.6 1027.0 1073.6 C1027.8 1076.6 1027.6 1080.3 1025.8 1084.0 C1024.0 1087.7 1015.8 1093.6 1016.0 1095.8 C1016.2 1098.0 1024.0 1096.6 1027.0 1097.0 C1030.0 1097.4 1032.8 1097.8 1034.0 1098.0" class="m"/>
<path d="M1052.0 1079.0 C1052.2 1082.0 1052.5 1091.7 1053.0 1097.0 C1053.5 1102.3 1053.5 1109.6 1055.0 1111.0 C1056.5 1112.4 1059.2 1109.2 1062.0 1105.5 C1064.8 1101.8 1068.0 1093.1 1071.7 1089.0 C1075.4 1084.9 1082.0 1082.3 1084.0 1081.0" class="m"/>
<path d="M398.8 838.3 C394.8 842.8 384.0 854.7 375.0 865.0 C366.0 875.3 354.2 889.2 345.0 900.0 C335.8 910.8 327.9 918.8 320.0 930.0 C312.1 941.2 305.8 955.0 297.5 967.5 C289.2 980.0 278.8 992.9 270.0 1005.0 C261.2 1017.1 252.1 1030.8 245.0 1040.0 C237.9 1049.2 234.3 1052.0 227.7 1060.0 C221.1 1068.0 212.0 1079.5 205.5 1087.8 C199.0 1096.1 195.7 1101.7 188.9 1110.0 C182.1 1118.3 171.6 1127.6 164.8 1137.8 C158.0 1148.0 153.3 1160.6 148.1 1171.1 C142.8 1181.6 139.8 1185.9 133.3 1200.7 C126.8 1215.5 115.8 1243.5 109.2 1260.0 C102.7 1276.5 98.4 1287.2 94.0 1300.0 C89.6 1312.8 86.5 1315.7 82.8 1337.0 C79.1 1358.3 73.6 1400.8 71.9 1428.0 C70.2 1455.2 72.0 1482.6 72.7 1500.0 C73.4 1517.4 73.7 1521.6 75.9 1532.4 C78.1 1543.2 82.2 1555.3 86.0 1565.0 C89.8 1574.7 93.8 1581.0 98.6 1590.7 C103.4 1600.4 106.7 1608.0 114.8 1623.1 C122.9 1638.2 135.3 1662.0 147.2 1681.5 C159.1 1701.0 171.2 1722.5 186.1 1739.8 C200.9 1757.1 227.9 1777.6 236.3 1785.2" class="m"/>
<path d="M397.5 887.5 C393.8 891.7 382.5 903.3 375.0 912.5 C367.5 921.7 359.2 934.6 352.5 942.5 C345.8 950.4 339.6 956.1 335.0 960.0 C330.4 963.9 329.2 961.4 325.0 966.0 C320.8 970.6 315.0 979.3 310.0 987.5 C305.0 995.7 302.1 1004.6 295.0 1015.0 C287.9 1025.4 275.3 1038.2 267.5 1050.0 C259.7 1061.8 254.1 1076.5 248.1 1085.9 C242.1 1095.3 237.9 1097.7 231.4 1106.3 C224.9 1114.9 216.0 1126.4 209.2 1137.8 C202.4 1149.2 196.9 1162.1 190.7 1174.8 C184.5 1187.5 178.7 1199.5 172.2 1213.7 C165.7 1227.9 158.0 1245.6 151.8 1260.0 C145.6 1274.4 139.8 1287.2 135.0 1300.0 C130.2 1312.8 127.0 1315.7 122.9 1337.0 C118.8 1358.3 110.7 1400.8 110.2 1428.0 C109.7 1455.2 116.4 1481.3 119.7 1500.0 C123.0 1518.7 126.0 1528.1 130.0 1540.0 C134.1 1551.9 138.4 1561.8 144.0 1571.3 C149.6 1580.8 151.0 1585.9 163.4 1597.2 C175.8 1608.5 199.6 1626.9 218.5 1639.3 C237.4 1651.7 256.3 1660.3 276.8 1671.7 C297.3 1683.1 327.4 1697.7 341.6 1707.4 C355.8 1717.1 357.4 1723.0 362.0 1730.0 C366.6 1737.0 368.0 1746.2 369.2 1749.5" class="m"/>
<path d="M266.3 975.0 C268.6 978.3 275.2 988.8 280.0 995.0 C284.8 1001.2 289.6 1004.5 295.0 1012.0 C300.4 1019.5 305.4 1026.6 312.5 1040.0 C319.6 1053.4 329.2 1075.0 337.5 1092.5 C345.8 1110.0 354.2 1127.1 362.5 1145.0 C370.8 1162.9 378.3 1176.0 387.5 1200.0 C396.7 1224.0 407.2 1260.3 417.8 1289.0 C428.4 1317.7 442.9 1350.2 451.0 1372.0 C459.1 1393.8 462.6 1406.2 466.5 1420.0 C470.4 1433.8 473.2 1448.8 474.6 1454.6" class="m"/>
<path d="M312.5 972.5 C315.4 975.4 322.5 982.1 330.0 990.0 C337.5 997.9 346.2 1005.0 357.5 1020.0 C368.8 1035.0 385.4 1062.9 397.5 1080.0 C409.6 1097.1 421.2 1107.1 430.0 1122.5 C438.8 1137.9 444.7 1159.6 450.0 1172.5 C455.3 1185.4 454.4 1181.6 462.0 1200.0 C469.6 1218.4 486.2 1255.2 495.5 1283.0 C504.8 1310.8 512.1 1338.0 517.8 1367.0 C523.5 1396.0 528.5 1437.5 529.6 1456.7 C530.7 1475.9 525.4 1477.9 524.5 1482.1" class="m"/>
<path d="M465.5 868.3 C463.8 878.6 459.2 906.4 455.0 930.0 C450.8 953.6 445.0 988.3 440.0 1010.0 C435.0 1031.7 430.0 1042.5 425.0 1060.0 C420.0 1077.5 415.0 1095.8 410.0 1115.0 C405.0 1134.2 399.7 1154.4 395.0 1175.0 C390.3 1195.6 385.8 1211.5 381.8 1238.5 C377.8 1265.5 374.1 1306.4 370.8 1337.0 C367.5 1367.6 364.7 1403.5 362.0 1422.0 C359.3 1440.5 356.0 1443.7 354.8 1448.0" class="m"/>
<path d="M430.0 1146.0 C428.8 1152.5 424.6 1167.7 422.5 1185.0 C420.4 1202.3 419.2 1229.0 417.5 1250.0 C415.8 1271.0 415.7 1284.2 412.0 1311.0 C408.3 1337.8 400.1 1386.2 395.5 1411.0 C390.9 1435.8 386.4 1451.5 384.6 1459.6" class="m"/>
<path d="M227.5 1146.3 C230.7 1155.6 239.4 1180.5 246.9 1202.0 C254.4 1223.5 265.7 1250.7 272.4 1275.0 C279.1 1299.3 282.1 1324.2 287.0 1348.0 C291.9 1371.8 297.8 1401.0 302.0 1418.0 C306.2 1435.0 309.2 1442.8 312.0 1450.0 C314.8 1457.2 317.4 1459.2 318.5 1461.0" class="m"/>
<path d="M361.3 1162.5 C357.1 1165.1 343.2 1172.1 336.0 1178.0 C328.8 1183.9 323.7 1189.8 318.0 1198.0 C312.3 1206.2 307.8 1215.0 302.0 1227.0 C296.2 1239.0 289.2 1257.2 283.0 1270.0 C276.8 1282.8 272.8 1286.8 265.0 1304.0 C257.2 1321.2 243.9 1346.6 236.0 1373.4 C228.1 1400.2 221.7 1431.2 217.7 1464.6 C213.7 1498.0 211.6 1543.6 212.2 1574.0 C212.8 1604.4 215.5 1622.7 221.3 1647.0 C227.1 1671.3 239.5 1702.0 246.9 1719.8 C254.3 1737.6 259.1 1741.8 265.6 1754.0 C272.1 1766.2 282.6 1786.3 286.0 1792.8" class="m"/>
<circle cx="235.8" cy="1151" r="3.2" fill="#e3007f"/>
<path d="M701.4 1097.5 C702.2 1103.8 704.8 1119.5 706.0 1135.0 C707.2 1150.5 707.3 1175.3 708.9 1190.6 C710.5 1205.9 713.4 1210.5 715.8 1226.7 C718.2 1242.9 721.1 1269.0 723.1 1288.0 C725.1 1307.0 725.5 1320.6 727.9 1340.6 C730.3 1360.5 733.9 1386.5 737.5 1407.7 C741.1 1428.9 746.3 1443.6 749.5 1467.6 C752.7 1491.6 754.9 1525.5 756.7 1551.5 C758.5 1577.5 759.4 1600.2 760.3 1623.3 C761.2 1646.4 760.2 1668.0 762.0 1690.0 C763.8 1712.0 769.6 1744.7 771.1 1755.6" class="m"/>
<path d="M731.0 1087.8 C732.4 1093.3 736.6 1105.3 739.4 1121.0 C742.2 1136.7 745.0 1163.5 747.8 1182.0 C750.6 1200.5 752.9 1212.3 756.0 1232.0 C759.1 1251.7 762.5 1278.6 766.2 1299.9 C769.9 1321.2 775.0 1337.8 778.2 1359.8 C781.4 1381.8 782.6 1409.7 785.4 1431.7 C788.2 1453.7 791.0 1467.6 795.0 1491.6 C799.0 1515.5 805.4 1549.5 809.4 1575.4 C813.4 1601.4 816.2 1620.0 819.0 1647.3 C821.8 1674.6 823.4 1716.8 826.0 1739.0 C828.6 1761.2 833.3 1773.8 834.8 1780.7" class="m"/>
<path d="M756.0 1148.9 C759.3 1152.6 767.7 1163.2 775.6 1171.0 C783.5 1178.8 795.0 1186.7 803.3 1196.0 C811.6 1205.3 817.4 1213.4 825.6 1226.7 C833.8 1240.0 846.0 1259.8 852.5 1276.0 C859.0 1292.2 860.9 1306.0 864.5 1323.9 C868.1 1341.9 871.3 1361.8 874.1 1383.7 C876.9 1405.7 879.2 1431.6 881.2 1455.6 C883.2 1479.6 884.8 1501.5 886.0 1527.5 C887.2 1553.5 888.8 1585.3 888.4 1611.3 C888.0 1637.2 885.1 1665.8 883.6 1683.2 C882.1 1700.6 881.0 1706.8 879.3 1715.6 C877.6 1724.4 874.3 1732.8 873.3 1736.3" class="m"/>
<path d="M238.1 1511.5 L256.3 1466.0 L281.0 1506.0" class="m"/>
<path d="M247.2 1490.7 L274.4 1484.3" class="m"/>
<path d="M273.2 1450.6 L287.4 1483.0" class="m"/>
<path d="M290.0 1449.3 L297.8 1477.8" class="m"/>
<path d="M268.0 1518.0 L294.0 1519.3" class="m"/>
<path d="M314.6 1498.5 L388.5 1489.4 L391.1 1519.3 L317.2 1527.0 L314.6 1498.5" class="m"/>
<path d="M322.4 1477.8 L323.7 1501.0" class="m"/>
<path d="M352.2 1471.3 L352.2 1496.0" class="m"/>
<path d="M380.7 1468.7 L382.0 1489.4" class="m"/>
<path d="M349.6 1521.9 L351.0 1545.2 L375.6 1542.6 L376.9 1527.0" class="m"/>
<path d="M392.4 1476.5 L396.0 1479.0 L410.6 1484.3" class="m"/>
<path d="M427.4 1483.0 L422.2 1516.7" class="m"/>
<path d="M427.4 1483.0 C430.0 1484.1 439.1 1486.4 443.0 1489.4 C446.9 1492.4 450.3 1497.3 450.7 1501.0 C451.1 1504.7 450.4 1508.9 445.6 1511.5 C440.9 1514.1 426.1 1515.8 422.2 1516.7" class="m"/>
<path d="M445.1 1428.1 C445.4 1431.8 446.1 1443.4 447.0 1450.0 C447.9 1456.6 449.7 1464.9 450.2 1467.9" class="m"/>
<path d="M551.0 1438.3 C552.2 1437.6 554.9 1434.6 558.1 1434.3 C561.3 1434.0 567.7 1434.6 570.4 1436.3 C573.1 1438.0 575.1 1440.3 574.4 1444.4 C573.7 1448.5 569.3 1456.1 566.3 1460.7 C563.2 1465.3 552.7 1468.8 556.1 1472.0 C559.5 1475.2 581.6 1478.7 586.7 1480.0" class="m"/>
<path d="M297.8 1553.0 L303.0 1591.9" class="m"/>
<path d="M300.0 1573.0 C297.9 1572.7 290.4 1569.6 287.4 1571.0 C284.4 1572.4 281.8 1577.8 282.2 1581.5 C282.6 1585.2 286.5 1591.3 290.0 1593.0 C293.5 1594.7 300.8 1592.1 303.0 1591.9" class="m"/>
<path d="M319.8 1560.7 L321.1 1590.6" class="m"/>
<path d="M352.2 1558.0 C350.5 1559.8 342.3 1565.5 341.9 1568.5 C341.5 1571.5 347.5 1573.7 349.6 1576.3 C351.8 1578.9 355.7 1581.8 354.8 1584.0 C353.9 1586.2 346.1 1588.4 344.4 1589.3" class="m"/>
<path d="M378.2 1568.5 C376.5 1568.9 369.8 1568.0 367.8 1571.0 C365.9 1574.0 363.5 1583.9 366.5 1586.7 C369.5 1589.5 382.8 1587.8 386.0 1588.0" class="m"/>
<path d="M476.7 1532.0 C477.2 1535.3 478.8 1545.0 480.0 1552.0 C481.2 1559.0 483.2 1570.2 483.8 1573.8" class="m"/>
<path d="M476.7 1532.0 C479.8 1530.3 490.4 1523.8 495.0 1521.9 C499.6 1520.0 502.8 1519.5 504.2 1520.8 C505.6 1522.1 506.2 1526.4 503.1 1530.0 C500.0 1533.6 488.7 1540.2 485.8 1542.2" class="m"/>
<path d="M485.8 1542.2 C488.0 1545.6 494.4 1557.2 499.0 1562.6 C503.6 1568.0 509.0 1571.1 513.3 1574.8 C517.5 1578.5 522.6 1583.3 524.5 1585.0" class="m"/>
<path d="M539.8 1531.0 C542.2 1532.5 546.5 1531.9 554.0 1540.2 C561.5 1548.5 579.5 1574.2 584.6 1581.0" class="m"/>
<path d="M592.8 1532.0 C590.8 1533.4 586.7 1532.7 580.6 1540.2 C574.5 1547.7 560.2 1570.8 556.1 1576.9" class="m"/>
<path d="M456.3 1651.2 C460.2 1650.8 473.6 1649.7 480.0 1649.0 C486.4 1648.3 490.8 1648.6 495.0 1647.1 C499.2 1645.6 503.2 1644.6 505.2 1640.0 C507.2 1635.4 505.5 1624.0 507.2 1619.6 C508.9 1615.2 514.5 1611.8 515.4 1613.5 C516.2 1615.2 512.8 1625.9 512.3 1630.0 C511.8 1634.1 511.1 1635.7 512.3 1638.0 C513.5 1640.3 516.8 1644.3 519.4 1644.0 C522.0 1643.7 523.9 1641.4 527.6 1636.0 C531.4 1630.6 539.2 1611.5 541.9 1611.5 C544.6 1611.5 541.9 1629.9 543.9 1636.0 C545.9 1642.1 551.0 1648.3 554.0 1648.0 C557.0 1647.7 559.8 1640.8 562.2 1634.0 C564.6 1627.2 566.9 1611.5 568.3 1607.4 C569.7 1603.3 571.4 1605.6 570.4 1609.4 C569.4 1613.2 561.2 1622.9 562.2 1630.0 C563.2 1637.1 572.4 1650.9 576.5 1652.2 C580.6 1653.5 585.0 1644.5 586.7 1638.0 C588.4 1631.5 586.4 1611.1 586.7 1613.5 C587.0 1615.9 586.0 1647.1 588.7 1652.2 C591.4 1657.3 598.2 1646.0 603.0 1644.0 C607.8 1642.0 610.8 1640.5 617.2 1640.0 C623.7 1639.5 637.6 1640.8 641.7 1641.0" class="m"/>
<path d="M257.4 1768.3 L267.6 1815.2" class="m"/>
<path d="M308.3 1768.3 L306.3 1811.0" class="m"/>
<path d="M357.2 1780.6 L343.0 1815.2" class="m"/>
<path d="M263.5 1819.3 L341.0 1815.2" class="m"/>
<path d="M257.4 1823.3 L257.4 1862.0" class="m"/>
<path d="M345.0 1815.2 L345.0 1849.8" class="m"/>
<ellipse cx="299" cy="1854" rx="33.6" ry="26.5" class="m"/>
<path d="M267.6 1860.0 L322.6 1856.0" class="m"/>
<circle cx="361" cy="1768" r="3" fill="#e3007f"/>
<path d="M386.4 1846.0 L389.6 1884.3" class="m"/>
<path d="M386.4 1846.0 C388.7 1845.3 395.7 1843.1 400.0 1842.0 C404.3 1840.9 409.7 1838.8 412.0 1839.6 C414.3 1840.4 415.1 1842.2 414.0 1847.0 C412.9 1851.8 408.5 1861.7 405.5 1868.3 C402.5 1874.9 397.6 1883.4 396.0 1886.4" class="m"/>
<path d="M430.0 1848.0 L429.0 1880.0" class="m"/>
<path d="M480.0 1845.0 C477.5 1845.7 469.1 1847.1 465.2 1849.2 C461.3 1851.3 457.2 1855.1 456.7 1857.7 C456.2 1860.3 460.2 1863.0 462.0 1865.1 C463.8 1867.2 467.1 1868.4 467.3 1870.5 C467.5 1872.6 466.6 1875.2 463.0 1877.9 C459.4 1880.6 448.8 1885.0 446.0 1886.4" class="m"/>
<path d="M496.0 1854.5 C494.4 1856.1 488.4 1859.9 486.5 1864.0 C484.6 1868.1 483.9 1874.5 484.3 1879.0 C484.7 1883.5 486.3 1888.6 488.6 1890.7 C490.9 1892.8 496.6 1891.6 498.2 1891.8" class="m"/>
<path d="M539.7 1848.1 L540.8 1887.5 L561.0 1889.6" class="m"/>
<path d="M570.6 1842.8 L580.2 1883.2 L598.3 1852.4" class="m"/>
<path d="M791.9 1777.8 L791.9 1831.0" class="m"/>
<path d="M836.3 1785.2 L834.8 1817.8" class="m"/>
<path d="M867.4 1777.8 C867.9 1786.2 868.4 1814.2 870.4 1828.0 C872.4 1841.8 877.8 1855.2 879.3 1860.7" class="m"/>
<path d="M796.3 1817.8 L873.3 1813.3" class="m"/>
<ellipse cx="830.4" cy="1857.8" rx="40" ry="34" class="m"/>
<ellipse cx="827.4" cy="1857.8" rx="20.7" ry="23.7" class="m"/>
<path d="M803.7 1857.8 L837.8 1854.8" class="m"/>
<path d="M823.0 1834.0 L826.0 1881.5" class="m"/>
<path d="M928.0 1762.6 C925.8 1762.3 919.1 1760.7 914.6 1761.1 C910.1 1761.5 904.6 1762.4 901.3 1764.8 C898.0 1767.2 895.1 1772.0 894.6 1775.2 C894.1 1778.4 895.4 1781.5 898.3 1784.0 C901.1 1786.5 907.5 1788.5 911.7 1790.0 C915.9 1791.5 920.8 1791.3 923.5 1793.0 C926.2 1794.7 928.2 1797.7 928.0 1800.4 C927.8 1803.1 925.2 1806.3 922.0 1809.3 C918.8 1812.2 908.0 1817.1 908.7 1818.1 C909.5 1819.1 921.1 1816.7 926.5 1815.2 C931.9 1813.7 936.6 1812.0 941.3 1809.3 C946.0 1806.6 952.6 1802.0 954.6 1798.9 C956.6 1795.8 955.1 1791.9 953.1 1790.7 C951.1 1789.5 945.0 1789.9 942.8 1791.5 C940.6 1793.1 939.3 1797.6 939.8 1800.4 C940.3 1803.2 942.5 1807.0 945.7 1808.5 C948.9 1810.0 955.0 1809.9 959.0 1809.3 C963.0 1808.7 967.2 1803.8 969.4 1804.8 C971.6 1805.8 970.7 1816.7 972.4 1815.2 C974.1 1813.7 977.1 1800.4 979.8 1795.9 C982.5 1791.5 986.2 1788.2 988.7 1788.5 C991.2 1788.8 993.1 1793.0 994.6 1797.4 C996.1 1801.9 996.1 1813.7 997.6 1815.2 C999.1 1816.7 1000.8 1810.0 1003.5 1806.3 C1006.2 1802.6 1011.2 1796.2 1013.9 1793.0 C1016.6 1789.8 1019.5 1788.1 1019.8 1787.0 C1020.0 1785.9 1016.6 1785.1 1015.4 1786.3 C1014.2 1787.5 1011.2 1791.3 1012.4 1794.4 C1013.6 1797.5 1019.6 1802.1 1022.8 1804.8 C1026.0 1807.5 1031.0 1808.2 1031.7 1810.7 C1032.4 1813.2 1030.7 1817.2 1027.2 1819.6 C1023.7 1821.9 1015.3 1824.1 1010.9 1824.8 C1006.5 1825.5 1002.3 1824.1 1000.6 1824.0" class="m"/>
</svg></body></html>
